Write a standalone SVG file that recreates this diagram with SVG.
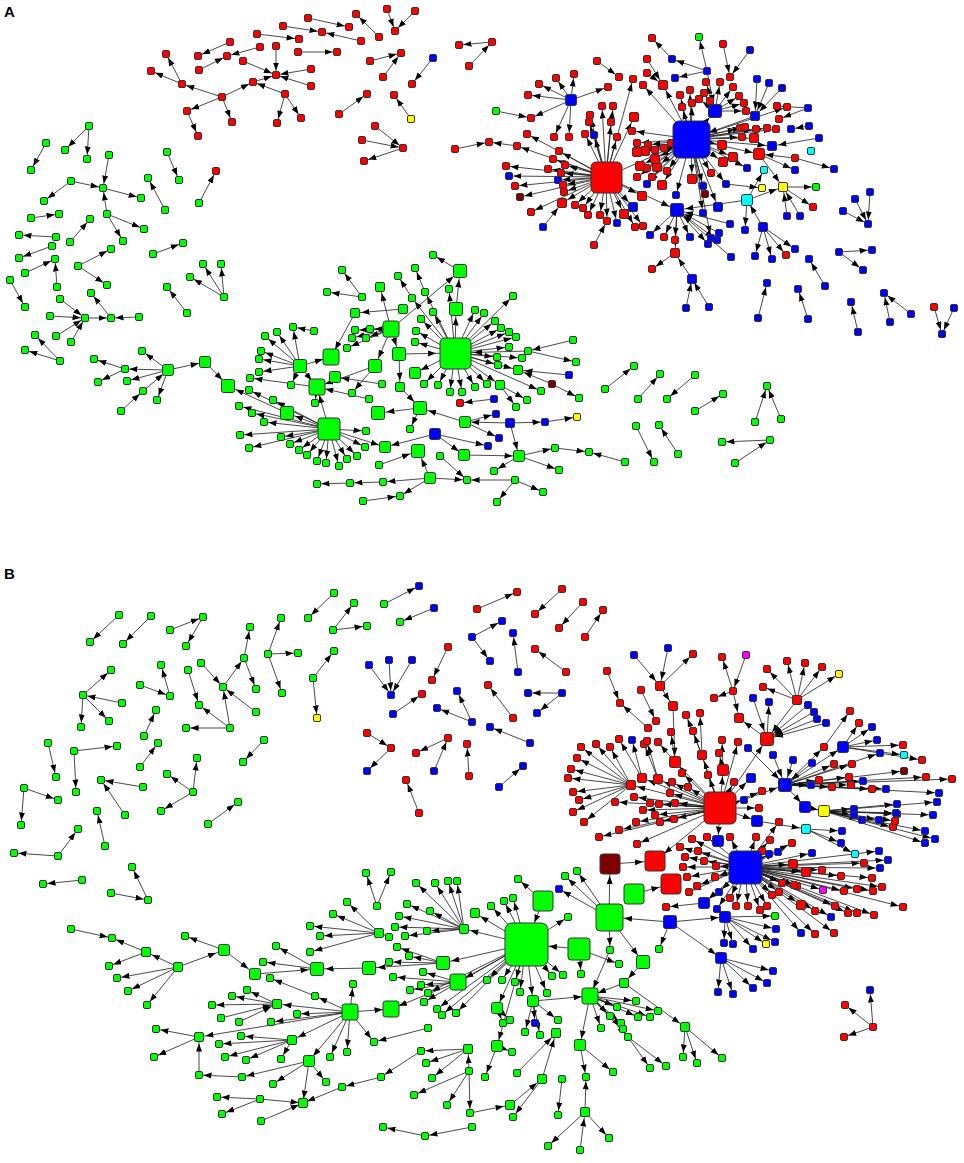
<svg xmlns="http://www.w3.org/2000/svg" width="964" height="1163" viewBox="0 0 964 1163">
<style>
#nodes rect{stroke:#333;stroke-width:1}
.cr{fill:#f00}.cg{fill:#0f0}.cb{fill:#00f}.cc{fill:#0ff}.cy{fill:#ff0}.cd{fill:#800000}.cm{fill:#f0f}
.s{width:7px;height:7px;rx:1.5px;transform:translate(-3.5px,-3.5px)}
.t{width:9px;height:9px;rx:1.5px;transform:translate(-4.5px,-4.5px)}
.u{width:11px;height:11px;rx:2px;transform:translate(-5.5px,-5.5px)}
.v{width:13px;height:13px;rx:2px;transform:translate(-6.5px,-6.5px)}
.w{width:16px;height:16px;rx:2.5px;transform:translate(-8px,-8px)}
.x{width:20px;height:20px;rx:3px;transform:translate(-10px,-10px)}
#connectors path{fill:none;stroke:#1a1a1a;stroke-width:0.8;marker-end:url(#a)}
#connectors .b{marker-end:url(#b)}
#connectors .c{marker-end:url(#c)}
#connectors .e{marker-end:url(#e)}
#connectors .f{marker-end:url(#f)}
#connectors .h{marker-end:url(#h)}
#connectors .k{marker-end:url(#k)}
.lbl{font-family:"Liberation Sans",Arial,sans-serif;font-weight:bold;font-size:15px;fill:#000}
</style>
<defs>
<marker id="a" markerUnits="userSpaceOnUse" markerWidth="9" markerHeight="7" refX="12.5" refY="3" orient="auto"><path d="M0,0L8,3L0,6z" fill="#000"/></marker>
<marker id="b" markerUnits="userSpaceOnUse" markerWidth="9" markerHeight="7" refX="14.5" refY="3" orient="auto"><path d="M0,0L8,3L0,6z" fill="#000"/></marker>
<marker id="c" markerUnits="userSpaceOnUse" markerWidth="9" markerHeight="7" refX="16.5" refY="3" orient="auto"><path d="M0,0L8,3L0,6z" fill="#000"/></marker>
<marker id="e" markerUnits="userSpaceOnUse" markerWidth="9" markerHeight="7" refX="20" refY="3" orient="auto"><path d="M0,0L8,3L0,6z" fill="#000"/></marker>
<marker id="f" markerUnits="userSpaceOnUse" markerWidth="9" markerHeight="7" refX="23" refY="3" orient="auto"><path d="M0,0L8,3L0,6z" fill="#000"/></marker>
<marker id="h" markerUnits="userSpaceOnUse" markerWidth="9" markerHeight="7" refX="27" refY="3" orient="auto"><path d="M0,0L8,3L0,6z" fill="#000"/></marker>
<marker id="k" markerUnits="userSpaceOnUse" markerWidth="9" markerHeight="7" refX="31" refY="3" orient="auto"><path d="M0,0L8,3L0,6z" fill="#000"/></marker>
</defs>
<rect x="0" y="0" width="964" height="1163" fill="#fff"/>
<text class="lbl" x="4" y="17">A</text>
<text class="lbl" x="4" y="579">B</text>
<g id="connectors">
<path d="M308 18L349 27"/><path d="M283 26L322 32"/><path d="M361 41L322 32"/><path d="M257 34L299 39"/><path d="M379 37L356 14"/><path d="M387 9L395 31"/><path d="M415 11L395 31"/><path d="M230 42L198 56"/><path d="M260 47L227 56"/><path d="M199 70L227 56"/><path d="M298 52L337 52"/><path d="M276 46L276 75"/><path d="M243 61L276 75"/><path d="M311 69L276 75"/><path d="M311 86L276 75"/><path d="M253 82L276 75"/><path d="M222 97L253 82"/><path d="M285 94L253 82"/><path d="M285 94L277 123"/><path d="M285 94L301 118"/><path d="M222 97L182 84"/><path d="M182 84L166 54"/><path d="M182 84L151 71"/><path d="M222 97L187 111"/><path d="M187 111L198 136"/><path d="M222 97L232 122"/><path d="M370 61L401 53"/><path d="M383 77L401 53"/><path d="M433 58L412 84"/><path d="M339 114L367 94"/><path d="M411 119L394 95"/><path d="M375 126L403 148"/><path d="M362 140L403 148"/><path d="M403 148L364 161"/><path d="M492 42L459 45"/><path d="M469 66L492 42"/><path d="M455 149L489 142"/><path d="M517 146L489 142"/>
<path d="M89 126L65 150"/><path d="M89 126L87 159"/><path d="M46 143L31 170"/><path d="M109 155L103 188"/><path d="M71 181L103 188"/><path d="M71 181L44 201"/><path d="M103 188L141 198"/><path d="M107 214L103 188"/><path d="M107 214L144 229"/><path d="M107 214L123 241"/><path d="M31 218L59 214"/><path d="M56 237L19 235"/><path d="M70 242L90 219"/><path d="M167 152L179 180"/><path d="M165 210L148 178"/><path d="M199 203L216 171"/><path d="M153 254L183 243"/><path d="M52 246L19 258"/><path d="M25 273L55 259"/><path d="M57 287L55 259"/><path d="M78 266L111 249"/><path d="M78 266L107 285"/><path d="M10 280L25 307"/><path d="M60 299L85 318"/><path d="M50 316L85 318"/><path d="M56 336L85 318"/><path d="M71 342L85 318"/><path d="M85 318L111 318"/><path d="M139 317L111 318"/><path d="M111 318L91 293"/><path d="M60 361L35 335"/><path d="M60 361L25 350"/><path d="M224 297L203 264"/><path d="M224 297L221 264"/><path d="M224 297L190 277"/><path d="M187 313L167 287"/>
<path class="b" d="M168 370L205 362"/><path class="c" d="M205 362L228 386"/><path d="M168 370L125 369"/><path d="M125 369L94 359"/><path d="M125 369L98 382"/><path d="M168 370L142 351"/><path d="M168 370L127 381"/><path d="M168 370L157 400"/><path d="M121 411L143 391"/><path class="b" d="M143 391L168 370"/>
<path d="M455 353L475 310"/><path d="M455 353L484 313"/><path d="M455 353L495 321"/><path d="M455 353L501 328"/><path d="M455 353L509 332"/><path d="M455 353L516 337"/><path d="M455 353L509 347"/><path d="M455 353L497 357"/><path d="M455 353L498 365"/><path d="M455 353L522 358"/><path d="M455 353L487 384"/><path d="M455 353L475 387"/><path d="M455 353L462 392"/><path d="M455 353L450 392"/><path d="M455 353L438 385"/><path d="M455 353L424 384"/><path d="M455 353L513 296"/><path d="M455 353L416 331"/><path d="M455 353L415 342"/><path d="M455 353L421 319"/><path d="M455 353L433 312"/><path d="M455 353L425 292"/><path d="M455 353L412 298"/><path d="M455 353L449 289"/><path d="M455 353L541 391"/>
<path class="c" d="M455 353L456 309"/><path class="b" d="M455 353L518 370"/><path class="b" d="M455 353L500 385"/><path class="b" d="M455 353L415 373"/><path class="c" d="M456 309L460 271"/><path d="M460 271L433 255"/><path class="h" d="M528 351L455 353"/><path class="h" d="M399 354L455 353"/><path class="b" d="M552 384L518 370"/><path d="M552 384L579 398"/><path d="M573 340L528 351"/><path d="M528 351L576 362"/><path class="b" d="M569 375L518 370"/><path d="M500 385L527 400"/><path d="M500 385L516 407"/><path d="M494 399L460 403"/><path d="M465 422L496 414"/><path d="M465 422L499 438"/><path d="M435 434L488 446"/>
<path class="c" d="M391 329L399 354"/><path class="c" d="M391 329L375 366"/><path d="M391 329L355 330"/><path d="M391 329L352 338"/><path d="M391 329L370 329"/><path d="M391 329L366 338"/><path d="M391 329L347 348"/><path class="b" d="M391 329L380 287"/><path class="c" d="M391 329L460 271"/><path class="b" d="M403 309L355 313"/><path d="M362 297L342 270"/><path d="M362 297L327 292"/><path d="M412 298L398 276"/><path d="M425 292L415 268"/><path class="c" d="M355 313L331 357"/>
<path d="M300 366L265 336"/><path d="M300 366L277 332"/><path d="M300 366L293 327"/><path d="M300 366L261 351"/><path d="M300 366L259 359"/><path d="M300 366L259 372"/><path d="M300 366L291 385"/><path class="c" d="M300 366L331 357"/><path class="c" d="M300 366L317 387"/><path d="M314 331L293 327"/><path class="b" d="M382 384L335 377"/><path class="c" d="M375 366L317 387"/><path d="M375 366L352 393"/>
<path d="M329 429L240 435"/><path d="M329 429L249 448"/><path d="M329 429L264 422"/><path d="M329 429L252 413"/><path d="M329 429L239 406"/><path d="M329 429L281 437"/><path d="M329 429L290 444"/><path d="M329 429L299 450"/><path d="M329 429L307 455"/><path d="M329 429L317 461"/><path d="M329 429L326 463"/><path d="M329 429L339 466"/><path d="M329 429L347 459"/><path d="M329 429L357 456"/><path d="M329 429L365 447"/><path d="M329 429L366 431"/><path d="M329 429L249 390"/><path d="M329 429L273 400"/><path class="c" d="M329 429L287 413"/><path class="c" d="M329 429L317 387"/><path class="b" d="M329 429L385 447"/><path d="M317 387L250 378"/><path d="M317 387L315 403"/><path class="c" d="M287 413L228 386"/><path class="c" d="M369 399L317 387"/>
<path class="c" d="M420 408L378 413"/><path class="c" d="M465 422L420 408"/><path class="b" d="M510 423L465 422"/><path class="b" d="M510 423L519 456"/><path class="b" d="M435 434L464 455"/><path class="b" d="M435 434L385 447"/><path class="b" d="M464 455L519 456"/><path class="c" d="M400 387L420 408"/><path class="b" d="M399 354L400 387"/><path class="c" d="M430 478L418 451"/><path class="c" d="M379 465L418 451"/><path d="M420 408L410 429"/><path d="M430 478L383 482"/><path d="M383 482L350 483"/><path d="M350 483L317 484"/><path d="M430 478L400 496"/><path d="M363 501L400 496"/><path d="M430 478L467 480"/><path d="M440 456L467 480"/><path d="M515 480L467 480"/><path d="M515 480L543 492"/><path d="M515 480L497 502"/><path d="M519 456L555 448"/><path d="M519 456L559 470"/><path d="M519 456L494 471"/><path d="M555 448L589 452"/><path d="M625 462L589 452"/><path d="M510 423L545 422"/><path d="M545 422L577 417"/>
<path d="M605 389L634 366"/><path d="M638 399L660 374"/><path d="M695 375L667 399"/><path d="M695 411L723 394"/><path d="M755 422L767 386"/><path d="M781 419L767 386"/><path d="M770 440L722 442"/><path d="M735 463L770 440"/><path d="M636 426L654 462"/><path d="M678 454L659 425"/>
<path d="M855 199L868 224"/><path d="M870 192L868 224"/><path d="M843 211L868 224"/><path d="M839 252L872 250"/><path d="M839 252L863 270"/><path d="M825 286L809 259"/><path d="M758 318L767 283"/><path d="M808 319L798 289"/><path d="M858 332L851 302"/><path d="M890 322L884 293"/><path d="M911 314L884 293"/><path d="M934 307L942 334"/><path d="M954 308L942 334"/>
<path d="M606 177L506 166"/><path d="M606 177L515 186"/><path d="M606 177L509 176"/><path d="M606 177L520 197"/><path d="M606 177L531 212"/><path d="M606 177L553 159"/><path d="M606 177L559 151"/><path d="M606 177L548 169"/><path d="M606 177L565 165"/><path d="M606 177L561 173"/><path d="M606 177L558 180"/><path d="M606 177L563 185"/><path d="M606 177L564 192"/><path d="M606 177L575 205"/><path d="M606 177L583 208"/><path d="M606 177L588 215"/><path d="M606 177L600 215"/><path d="M606 177L607 221"/><path d="M606 177L617 223"/><path d="M606 177L635 227"/><path d="M606 177L585 134"/><path d="M606 177L594 135"/><path d="M606 177L589 122"/><path d="M606 177L590 115"/><path d="M606 177L602 106"/><path d="M606 177L613 106"/><path d="M606 177L611 122"/><path d="M606 177L617 137"/><path d="M606 177L527 134"/><path d="M606 177L643 226"/><path d="M606 177L517 146"/><path d="M606 177L633 79"/>
<path class="b" d="M606 177L562 203"/><path class="b" d="M606 177L624 214"/><path class="b" d="M606 177L633 207"/><path class="b" d="M606 177L642 196"/><path class="b" d="M606 177L634 117"/><path class="c" d="M606 177L677 210"/><path class="h" d="M606 177L691 139"/>
<path d="M571 100L554 137"/><path d="M571 100L569 137"/><path d="M571 100L574 74"/><path d="M571 100L556 78"/><path d="M571 100L539 84"/><path d="M571 100L528 95"/><path d="M571 100L531 118"/><path d="M571 100L608 87"/><path d="M496 111L531 118"/><path class="b" d="M543 227L562 203"/><path d="M594 245L607 221"/>
<path d="M691 139L680 95"/><path d="M691 139L682 107"/><path d="M691 139L692 103"/><path d="M691 139L690 90"/><path d="M691 139L648 145"/><path d="M691 139L637 143"/><path d="M691 139L655 150"/><path d="M691 139L647 168"/><path d="M691 139L652 177"/><path d="M691 139L637 177"/><path d="M691 139L667 171"/><path d="M691 139L671 143"/><path d="M691 139L664 148"/><path d="M691 139L742 137"/><path d="M691 139L740 128"/><path d="M691 139L745 127"/><path d="M691 139L756 129"/><path d="M691 139L767 128"/><path d="M691 139L776 129"/><path d="M691 139L711 173"/><path d="M691 139L747 168"/><path d="M691 139L703 186"/><path d="M691 139L705 194"/><path d="M691 139L726 184"/><path d="M691 139L703 213"/><path d="M691 139L711 238"/><path d="M691 139L787 107"/><path d="M691 139L647 184"/><path d="M691 139L676 195"/><path d="M691 139L632 131"/><path d="M691 139L643 85"/>
<path class="b" d="M691 139L645 151"/><path class="b" d="M691 139L637 152"/><path class="b" d="M691 139L655 159"/><path class="b" d="M691 139L640 166"/><path class="b" d="M691 139L657 167"/><path class="b" d="M691 139L662 185"/><path class="b" d="M691 139L722 145"/><path class="b" d="M691 139L733 157"/><path class="b" d="M691 139L754 138"/><path class="b" d="M691 139L772 146"/><path class="b" d="M691 139L723 162"/><path class="b" d="M691 139L692 179"/><path class="b" d="M691 139L718 207"/><path class="b" d="M691 139L663 85"/><path class="b" d="M691 139L759 154"/><path class="c" d="M691 139L715 111"/><path class="h" d="M755 116L691 139"/>
<path d="M715 111L704 93"/><path d="M715 111L699 99"/><path d="M715 111L710 101"/><path d="M715 111L706 82"/><path d="M715 111L720 82"/><path d="M715 111L733 87"/><path d="M715 111L739 96"/><path d="M715 111L744 103"/><path d="M715 111L746 111"/><path class="c" d="M707 71L715 111"/>
<path d="M677 210L650 235"/><path d="M677 210L664 237"/><path d="M677 210L675 240"/><path d="M677 210L690 237"/><path d="M677 210L708 244"/><path d="M677 210L717 240"/><path class="c" d="M731 257L677 210"/><path class="c" d="M730 224L677 210"/><path class="c" d="M719 233L677 210"/><path class="c" d="M747 200L677 210"/><path class="b" d="M677 210L675 253"/><path d="M675 253L652 269"/><path class="b" d="M692 279L675 253"/><path d="M686 308L692 279"/><path d="M709 307L692 279"/>
<path class="b" d="M763 227L747 200"/><path class="b" d="M747 200L783 187"/><path d="M747 200L745 230"/><path d="M747 200L764 170"/><path class="b" d="M787 216L783 187"/><path class="b" d="M800 216L783 187"/><path class="b" d="M759 154L783 187"/><path d="M783 187L816 187"/><path d="M783 187L813 207"/><path d="M763 227L755 256"/><path d="M763 227L772 259"/><path d="M763 227L786 255"/><path d="M763 227L795 249"/><path class="b" d="M795 158L759 154"/><path d="M795 158L834 169"/><path d="M759 154L795 170"/><path class="b" d="M819 138L772 146"/><path class="b" d="M782 88L755 116"/><path class="b" d="M769 83L755 116"/><path class="b" d="M757 79L755 116"/><path d="M808 108L777 106"/><path d="M808 108L779 119"/><path d="M809 126L791 129"/><path d="M726 184L762 188"/>
<path d="M707 71L672 59"/><path d="M672 59L652 38"/><path d="M707 71L699 37"/><path d="M723 44L730 77"/><path d="M750 50L730 77"/><path d="M597 61L619 77"/><path d="M707 71L675 78"/><path class="b" d="M647 59L663 85"/><path class="b" d="M647 73L663 85"/>
<path d="M119 615L90 642"/><path d="M151 616L123 644"/><path d="M170 630L203 617"/><path d="M203 617L186 646"/><path d="M334 593L308 618"/><path d="M333 630L354 603"/><path d="M333 630L367 626"/><path d="M268 654L281 618"/><path d="M268 654L298 653"/><path d="M268 654L282 693"/><path d="M244 658L250 627"/><path d="M244 658L256 689"/><path d="M223 687L244 658"/><path d="M201 663L223 687"/><path d="M256 712L223 687"/><path d="M230 728L223 687"/><path d="M230 728L199 705"/><path d="M230 728L186 728"/><path d="M188 670L199 705"/><path d="M313 678L334 651"/><path d="M313 678L317 718"/><path d="M83 695L111 670"/><path d="M122 703L83 695"/><path d="M83 695L81 727"/><path d="M83 695L109 721"/><path d="M170 696L161 665"/><path d="M140 685L170 696"/><path d="M144 736L156 710"/><path d="M48 743L56 777"/><path d="M74 751L117 746"/><path d="M74 751L76 792"/><path d="M140 767L158 743"/><path d="M143 787L101 780"/><path d="M125 815L101 780"/><path d="M193 792L197 758"/><path d="M193 792L167 774"/><path d="M193 792L161 811"/><path d="M264 740L243 762"/><path d="M208 824L238 802"/><path d="M24 788L58 800"/><path d="M24 788L21 825"/><path d="M105 846L97 811"/><path d="M58 856L78 829"/><path d="M58 856L14 853"/><path d="M148 900L132 867"/><path d="M111 893L148 900"/><path d="M82 880L43 884"/>
<path d="M369 665L391 695"/><path d="M389 660L391 695"/><path d="M412 660L391 695"/><path d="M448 647L432 680"/><path d="M393 714L422 694"/><path d="M472 722L457 691"/><path d="M472 722L437 708"/><path d="M367 733L391 748"/><path d="M391 748L367 771"/><path d="M448 738L416 753"/><path d="M434 771L448 738"/><path d="M469 776L467 744"/><path d="M419 813L406 780"/><path d="M384 604L419 586"/><path d="M434 608L400 622"/><path d="M477 609L517 592"/><path d="M562 589L535 614"/><path d="M583 602L559 628"/><path d="M585 637L603 610"/><path d="M472 637L502 621"/><path d="M472 637L490 661"/><path d="M518 672L513 633"/><path d="M566 672L535 649"/><path d="M513 718L488 685"/><path d="M562 693L528 693"/><path d="M562 693L537 713"/><path d="M530 743L490 727"/><path d="M499 787L523 766"/>
<path d="M873 1027L870 990"/><path d="M873 1027L845 1005"/><path d="M873 1027L844 1037"/>
<path class="b" d="M634 655L660 686"/><path class="b" d="M668 648L660 686"/><path d="M660 686L693 654"/><path class="b" d="M660 686L673 706"/><path d="M607 671L620 703"/><path d="M648 728L620 703"/><path d="M641 690L656 721"/><path d="M733 691L722 657"/><path d="M746 655L733 691"/><path class="b" d="M733 691L739 718"/><path d="M733 691L714 698"/><path d="M797 700L767 669"/><path d="M797 700L787 661"/><path d="M797 700L805 663"/><path d="M797 700L822 667"/><path d="M797 700L839 674"/><path d="M797 700L763 687"/><path class="c" d="M797 700L767 739"/><path class="c" d="M753 698L767 739"/><path d="M767 739L769 702"/><path class="c" d="M808 705L767 739"/><path class="c" d="M814 712L767 739"/><path class="c" d="M817 719L767 739"/><path class="c" d="M826 723L767 739"/><path class="b" d="M767 739L739 718"/><path class="b" d="M673 706L675 762"/><path d="M702 755L686 715"/><path d="M702 755L700 713"/><path d="M723 770L722 740"/><path d="M723 770L719 753"/><path class="c" d="M748 748L785 785"/><path class="c" d="M773 755L785 785"/><path class="c" d="M793 760L785 785"/><path class="c" d="M812 763L785 785"/>
<path class="b" d="M720 808L631 785"/><path class="b" d="M720 808L642 778"/><path class="b" d="M720 808L658 779"/><path class="b" d="M720 808L675 762"/><path class="b" d="M720 808L702 755"/><path class="b" d="M720 808L723 770"/><path d="M720 808L615 802"/><path d="M720 808L634 797"/><path d="M720 808L650 803"/><path d="M720 808L659 804"/><path d="M720 808L643 810"/><path d="M720 808L670 793"/><path d="M720 808L675 803"/><path d="M720 808L688 787"/><path d="M720 808L682 773"/><path d="M720 808L672 782"/><path d="M720 808L599 837"/><path d="M720 808L619 830"/><path d="M720 808L637 844"/><path d="M720 808L636 822"/><path d="M720 808L655 815"/><path d="M720 808L660 822"/><path d="M720 808L674 819"/><path d="M720 808L708 775"/><path d="M720 808L734 782"/><path d="M720 808L762 791"/><path d="M720 808L759 808"/><path d="M720 808L744 800"/><path d="M720 808L693 731"/><path d="M720 808L738 742"/><path class="b" d="M720 808L757 821"/><path class="b" d="M720 808L718 841"/><path class="b" d="M720 808L751 778"/><path class="c" d="M720 808L785 785"/><path class="c" d="M720 808L767 739"/><path class="e" d="M720 808L655 861"/>
<path d="M631 785L573 812"/><path d="M631 785L579 800"/><path d="M631 785L573 792"/><path d="M631 785L568 778"/><path d="M631 785L571 769"/><path d="M631 785L577 758"/><path d="M631 785L581 747"/><path d="M631 785L596 744"/><path d="M631 785L610 747"/><path d="M631 785L584 822"/><path d="M642 778L619 739"/><path d="M642 778L632 740"/><path d="M658 779L644 744"/><path d="M658 779L647 741"/><path d="M675 762L658 742"/><path d="M675 762L671 732"/>
<path d="M824 747L850 711"/><path d="M843 747L859 723"/><path d="M843 747L872 727"/><path d="M843 747L877 740"/><path d="M843 747L903 745"/><path d="M843 747L904 755"/><path d="M843 747L922 760"/><path class="b" d="M785 785L843 747"/><path d="M785 785L824 747"/><path d="M785 785L904 771"/><path d="M785 785L926 777"/><path d="M785 785L952 779"/><path d="M785 785L939 793"/><path d="M785 785L880 753"/><path d="M785 785L834 764"/><path d="M785 785L852 764"/><path d="M785 785L849 777"/><path d="M785 785L863 781"/><path d="M785 785L872 789"/><path d="M785 785L886 789"/><path d="M785 785L851 785"/><path d="M785 785L832 787"/><path d="M785 785L819 780"/><path d="M785 785L811 785"/><path class="b" d="M785 785L805 807"/><path class="b" d="M805 807L824 811"/>
<path d="M824 811L897 804"/><path d="M824 811L897 814"/><path d="M824 811L879 820"/><path d="M824 811L854 809"/><path d="M824 811L854 815"/><path d="M824 811L862 820"/><path d="M824 811L925 831"/><path d="M824 811L935 839"/><path d="M824 811L925 843"/><path d="M824 811L896 813"/><path d="M824 811L937 802"/><path d="M824 811L933 815"/><path d="M824 811L893 827"/><path d="M824 811L895 821"/><path class="b" d="M757 821L806 829"/><path d="M806 829L842 831"/><path d="M806 829L841 843"/><path d="M806 829L855 854"/>
<path d="M745 867L687 877"/><path d="M745 867L697 886"/><path d="M745 867L689 892"/><path d="M745 867L683 867"/><path d="M745 867L685 857"/><path d="M745 867L704 861"/><path d="M745 867L715 877"/><path d="M745 867L716 866"/><path d="M745 867L698 851"/><path d="M745 867L680 847"/><path d="M745 867L692 839"/><path d="M745 867L707 837"/><path d="M745 867L730 837"/><path d="M745 867L756 837"/><path d="M745 867L770 840"/><path d="M745 867L762 851"/><path d="M745 867L779 822"/><path d="M745 867L792 843"/><path d="M745 867L805 871"/><path d="M745 867L822 870"/><path d="M745 867L841 876"/><path d="M745 867L736 906"/><path d="M745 867L748 906"/><path d="M745 867L760 910"/><path d="M745 867L767 906"/><path d="M745 867L730 898"/><path d="M745 867L779 892"/><path d="M745 867L797 886"/><path d="M745 867L815 911"/><path d="M745 867L835 906"/><path d="M745 867L848 913"/><path d="M745 867L857 913"/><path d="M745 867L874 915"/><path d="M745 867L903 907"/><path d="M745 867L815 934"/><path d="M745 867L834 933"/><path d="M745 867L801 933"/><path d="M745 867L831 917"/><path d="M745 867L844 891"/><path d="M745 867L857 889"/><path d="M745 867L873 891"/><path d="M745 867L882 887"/><path d="M745 867L872 878"/><path d="M745 867L880 868"/><path d="M745 867L864 863"/><path d="M745 867L888 860"/><path d="M745 867L879 851"/><path d="M745 867L823 890"/><path d="M745 867L782 883"/><path d="M745 867L772 895"/><path d="M745 867L794 885"/><path d="M745 867L719 892"/><path d="M745 867L717 909"/><path d="M745 867L812 853"/><path d="M745 867L778 852"/><path d="M745 867L769 854"/><path class="b" d="M745 867L801 905"/><path class="b" d="M745 867L806 872"/><path class="b" d="M745 867L793 864"/><path class="b" d="M745 867L704 903"/><path d="M704 903L666 907"/>
<path class="f" d="M670 922L609 917"/><path class="b" d="M670 922L721 958"/><path class="b" d="M670 922L725 917"/><path d="M670 922L659 949"/><path d="M725 917L775 916"/><path d="M725 917L776 929"/><path d="M725 917L775 942"/><path d="M725 917L766 944"/><path d="M725 917L753 949"/><path d="M725 917L733 944"/><path d="M725 917L724 943"/><path d="M721 958L773 971"/><path d="M721 958L767 983"/><path d="M721 958L753 988"/><path d="M721 958L733 994"/><path d="M721 958L718 992"/>
<path class="e" d="M609 917L610 864"/><path class="e" d="M610 864L655 861"/><path class="e" d="M634 894L671 884"/><path d="M609 917L559 889"/><path d="M609 917L565 876"/><path d="M609 917L577 871"/><path d="M609 917L610 950"/><path class="c" d="M609 917L643 962"/><path class="k" d="M543 901L526 944"/><path d="M543 901L518 879"/><path class="k" d="M579 949L526 944"/><path d="M579 949L619 964"/><path d="M579 949L581 974"/><path class="b" d="M643 962L624 983"/><path class="c" d="M624 983L590 996"/><path class="b" d="M624 983L685 1027"/>
<path d="M590 996L636 1001"/><path d="M590 996L650 1017"/><path d="M590 996L638 1017"/><path d="M590 996L617 1007"/><path d="M590 996L610 1016"/><path d="M590 996L621 1023"/><path d="M590 996L623 1029"/><path d="M590 996L628 1037"/><path d="M590 996L658 1011"/><path d="M590 996L601 1028"/><path class="b" d="M590 996L580 1045"/><path class="c" d="M533 1001L590 996"/><path class="c" d="M610 950L590 996"/><path d="M628 1037L650 1068"/><path d="M628 1037L666 1066"/><path d="M580 1045L586 1077"/><path d="M580 1045L613 1072"/><path d="M585 1112L586 1077"/><path class="b" d="M580 1150L585 1112"/><path d="M585 1112L548 1146"/><path d="M585 1112L609 1138"/><path d="M685 1027L683 1057"/><path d="M685 1027L697 1063"/><path d="M685 1027L722 1058"/><path d="M562 1079L558 1115"/><path class="b" d="M517 1073L556 1033"/><path class="b" d="M542 1079L556 1033"/><path class="b" d="M510 1105L542 1079"/><path d="M542 1079L513 1117"/><path d="M497 1046L485 1077"/><path class="b" d="M470 1113L510 1105"/>
<path class="b" d="M526 944L533 1001"/><path class="b" d="M526 944L497 1008"/><path class="b" d="M526 944L497 1046"/><path d="M526 944L520 992"/><path d="M526 944L515 982"/><path d="M526 944L552 976"/><path d="M526 944L547 993"/><path d="M526 944L563 975"/><path d="M526 944L568 917"/><path d="M526 944L504 901"/><path d="M526 944L513 898"/><path d="M526 944L491 906"/><path class="b" d="M526 944L464 929"/><path class="b" d="M526 944L475 913"/><path class="c" d="M526 944L443 963"/><path class="c" d="M526 944L458 982"/><path d="M526 944L428 993"/><path d="M526 944L424 1002"/><path d="M526 944L437 1009"/><path d="M526 944L442 1015"/><path d="M526 944L456 1013"/><path d="M526 944L487 980"/><path d="M526 944L502 980"/><path d="M533 1001L535 1023"/><path d="M533 1001L525 1032"/><path d="M533 1001L540 1035"/><path d="M533 1001L558 1020"/><path d="M497 1008L510 1020"/><path d="M497 1008L503 1023"/><path d="M497 1046L512 1052"/>
<path d="M464 929L416 883"/><path d="M464 929L435 883"/><path d="M464 929L448 881"/><path d="M464 929L457 881"/><path d="M464 929L407 904"/><path d="M464 929L430 911"/><path d="M464 929L399 916"/><path d="M464 929L395 927"/><path d="M464 929L427 931"/><path d="M464 929L405 936"/><path d="M377 906L366 873"/><path d="M377 906L391 872"/><path class="c" d="M443 963L369 968"/><path d="M443 963L409 956"/><path d="M443 963L389 962"/><path d="M443 963L397 947"/><path class="c" d="M458 982L391 1009"/><path d="M458 982L410 990"/><path d="M458 982L393 977"/><path d="M458 982L423 972"/><path d="M458 982L421 985"/><path class="c" d="M350 1012L391 1009"/><path class="c" d="M369 968L317 969"/><path class="c" d="M255 974L317 969"/><path class="b" d="M389 937L379 933"/><path d="M379 933L333 914"/><path d="M379 933L347 902"/><path d="M379 933L310 926"/><path d="M379 933L320 936"/><path d="M379 933L310 952"/><path d="M317 969L263 962"/><path d="M317 969L276 946"/>
<path class="c" d="M224 950L255 974"/><path class="c" d="M178 967L224 950"/><path d="M224 950L185 936"/><path class="b" d="M178 967L146 952"/><path d="M146 952L112 938"/><path d="M71 929L112 938"/><path d="M146 952L109 966"/><path d="M178 967L117 978"/><path d="M178 967L128 991"/><path d="M178 967L147 1005"/><path d="M315 996L270 978"/>
<path d="M350 1012L315 996"/><path class="b" d="M350 1012L277 1004"/><path d="M350 1012L297 1014"/><path d="M350 1012L271 1022"/><path class="b" d="M350 1012L292 1040"/><path d="M350 1012L330 1057"/><path d="M350 1012L347 1052"/><path d="M350 1012L374 1042"/><path d="M350 1012L353 984"/><path class="b" d="M350 1012L309 1061"/><path class="b" d="M350 1012L199 1037"/><path d="M277 1004L212 1005"/><path d="M277 1004L232 996"/><path d="M277 1004L247 990"/><path class="b" d="M221 1018L277 1004"/><path class="b" d="M239 1022L277 1004"/><path d="M199 1037L156 1029"/><path d="M199 1037L154 1057"/><path class="b" d="M199 1075L199 1037"/><path d="M242 1077L199 1075"/><path d="M292 1040L241 1036"/><path d="M292 1040L219 1044"/><path d="M292 1040L225 1057"/><path d="M292 1040L246 1060"/><path d="M292 1040L281 1059"/><path d="M309 1061L242 1077"/><path d="M309 1061L273 1084"/><path d="M309 1061L326 1082"/><path d="M309 1061L303 1103"/><path d="M260 1099L303 1103"/><path d="M260 1099L217 1097"/><path d="M260 1099L222 1114"/><path d="M261 1121L303 1103"/><path d="M342 1087L303 1103"/><path d="M381 1077L342 1087"/><path d="M421 1051L381 1077"/><path d="M468 1049L421 1051"/><path d="M468 1049L426 1063"/><path d="M468 1049L432 1078"/><path class="b" d="M469 1071L468 1049"/><path d="M469 1071L414 1095"/><path d="M469 1071L447 1105"/><path d="M469 1071L470 1113"/><path d="M472 1127L425 1136"/><path d="M425 1136L383 1127"/><path d="M428 1028L374 1042"/>
</g>
<g id="nodes">
<g id="n308_18"><rect class="s cr" x="308" y="18"/></g><g id="n349_27"><rect class="s cr" x="349" y="27"/></g><g id="n283_26"><rect class="s cr" x="283" y="26"/></g><g id="n322_32"><rect class="s cr" x="322" y="32"/></g><g id="n361_41"><rect class="s cr" x="361" y="41"/></g><g id="n257_34"><rect class="s cr" x="257" y="34"/></g><g id="n299_39"><rect class="s cr" x="299" y="39"/></g><g id="n356_14"><rect class="s cr" x="356" y="14"/></g><g id="n379_37"><rect class="s cr" x="379" y="37"/></g><g id="n387_9"><rect class="s cr" x="387" y="9"/></g><g id="n415_11"><rect class="s cr" x="415" y="11"/></g><g id="n395_31"><rect class="s cr" x="395" y="31"/></g><g id="n230_42"><rect class="s cr" x="230" y="42"/></g><g id="n198_56"><rect class="s cr" x="198" y="56"/></g><g id="n260_47"><rect class="s cr" x="260" y="47"/></g><g id="n227_56"><rect class="s cr" x="227" y="56"/></g><g id="n199_70"><rect class="s cr" x="199" y="70"/></g><g id="n298_52"><rect class="s cr" x="298" y="52"/></g><g id="n337_52"><rect class="s cr" x="337" y="52"/></g><g id="n276_46"><rect class="s cr" x="276" y="46"/></g><g id="n276_75"><rect class="s cr" x="276" y="75"/></g><g id="n243_61"><rect class="s cr" x="243" y="61"/></g><g id="n311_69"><rect class="s cr" x="311" y="69"/></g><g id="n311_86"><rect class="s cr" x="311" y="86"/></g><g id="n253_82"><rect class="s cr" x="253" y="82"/></g><g id="n222_97"><rect class="s cr" x="222" y="97"/></g><g id="n285_94"><rect class="s cr" x="285" y="94"/></g><g id="n277_123"><rect class="s cr" x="277" y="123"/></g><g id="n301_118"><rect class="s cr" x="301" y="118"/></g><g id="n182_84"><rect class="s cr" x="182" y="84"/></g><g id="n166_54"><rect class="s cr" x="166" y="54"/></g><g id="n151_71"><rect class="s cr" x="151" y="71"/></g><g id="n187_111"><rect class="s cr" x="187" y="111"/></g><g id="n198_136"><rect class="s cr" x="198" y="136"/></g><g id="n232_122"><rect class="s cr" x="232" y="122"/></g><g id="n401_53"><rect class="s cr" x="401" y="53"/></g><g id="n370_61"><rect class="s cr" x="370" y="61"/></g><g id="n383_77"><rect class="s cr" x="383" y="77"/></g><g id="n412_84"><rect class="s cr" x="412" y="84"/></g><g id="n339_114"><rect class="s cr" x="339" y="114"/></g><g id="n367_94"><rect class="s cr" x="367" y="94"/></g><g id="n394_95"><rect class="s cr" x="394" y="95"/></g><g id="n375_126"><rect class="s cr" x="375" y="126"/></g><g id="n362_140"><rect class="s cr" x="362" y="140"/></g><g id="n403_148"><rect class="s cr" x="403" y="148"/></g><g id="n364_161"><rect class="s cr" x="364" y="161"/></g><g id="n459_45"><rect class="s cr" x="459" y="45"/></g><g id="n492_42"><rect class="s cr" x="492" y="42"/></g><g id="n469_66"><rect class="s cr" x="469" y="66"/></g><g id="n455_149"><rect class="s cr" x="455" y="149"/></g><g id="n489_142"><rect class="s cr" x="489" y="142"/></g><g id="n517_146"><rect class="s cr" x="517" y="146"/></g><g id="n216_171"><rect class="s cr" x="216" y="171"/></g><g id="n433_58"><rect class="s cb" x="433" y="58"/></g><g id="n411_119"><rect class="s cy" x="411" y="119"/></g>
<g id="n89_126"><rect class="s cg" x="89" y="126"/></g><g id="n65_150"><rect class="s cg" x="65" y="150"/></g><g id="n87_159"><rect class="s cg" x="87" y="159"/></g><g id="n46_143"><rect class="s cg" x="46" y="143"/></g><g id="n31_170"><rect class="s cg" x="31" y="170"/></g><g id="n109_155"><rect class="s cg" x="109" y="155"/></g><g id="n103_188"><rect class="s cg" x="103" y="188"/></g><g id="n71_181"><rect class="s cg" x="71" y="181"/></g><g id="n44_201"><rect class="s cg" x="44" y="201"/></g><g id="n141_198"><rect class="s cg" x="141" y="198"/></g><g id="n107_214"><rect class="s cg" x="107" y="214"/></g><g id="n144_229"><rect class="s cg" x="144" y="229"/></g><g id="n123_241"><rect class="s cg" x="123" y="241"/></g><g id="n31_218"><rect class="s cg" x="31" y="218"/></g><g id="n59_214"><rect class="s cg" x="59" y="214"/></g><g id="n56_237"><rect class="s cg" x="56" y="237"/></g><g id="n19_235"><rect class="s cg" x="19" y="235"/></g><g id="n90_219"><rect class="s cg" x="90" y="219"/></g><g id="n70_242"><rect class="s cg" x="70" y="242"/></g><g id="n167_152"><rect class="s cg" x="167" y="152"/></g><g id="n179_180"><rect class="s cg" x="179" y="180"/></g><g id="n148_178"><rect class="s cg" x="148" y="178"/></g><g id="n165_210"><rect class="s cg" x="165" y="210"/></g><g id="n199_203"><rect class="s cg" x="199" y="203"/></g><g id="n183_243"><rect class="s cg" x="183" y="243"/></g><g id="n153_254"><rect class="s cg" x="153" y="254"/></g><g id="n52_246"><rect class="s cg" x="52" y="246"/></g><g id="n19_258"><rect class="s cg" x="19" y="258"/></g><g id="n111_249"><rect class="s cg" x="111" y="249"/></g><g id="n55_259"><rect class="s cg" x="55" y="259"/></g><g id="n25_273"><rect class="s cg" x="25" y="273"/></g><g id="n57_287"><rect class="s cg" x="57" y="287"/></g><g id="n78_266"><rect class="s cg" x="78" y="266"/></g><g id="n107_285"><rect class="s cg" x="107" y="285"/></g><g id="n10_280"><rect class="s cg" x="10" y="280"/></g><g id="n25_307"><rect class="s cg" x="25" y="307"/></g><g id="n60_299"><rect class="s cg" x="60" y="299"/></g><g id="n85_318"><rect class="s cg" x="85" y="318"/></g><g id="n50_316"><rect class="s cg" x="50" y="316"/></g><g id="n56_336"><rect class="s cg" x="56" y="336"/></g><g id="n71_342"><rect class="s cg" x="71" y="342"/></g><g id="n91_293"><rect class="s cg" x="91" y="293"/></g><g id="n111_318"><rect class="s cg" x="111" y="318"/></g><g id="n139_317"><rect class="s cg" x="139" y="317"/></g><g id="n35_335"><rect class="s cg" x="35" y="335"/></g><g id="n60_361"><rect class="s cg" x="60" y="361"/></g><g id="n25_350"><rect class="s cg" x="25" y="350"/></g><g id="n224_297"><rect class="s cg" x="224" y="297"/></g><g id="n203_264"><rect class="s cg" x="203" y="264"/></g><g id="n221_264"><rect class="s cg" x="221" y="264"/></g><g id="n190_277"><rect class="s cg" x="190" y="277"/></g><g id="n167_287"><rect class="s cg" x="167" y="287"/></g><g id="n187_313"><rect class="s cg" x="187" y="313"/></g>
<g id="n168_370"><rect class="u cg" x="168" y="370"/></g><g id="n205_362"><rect class="u cg" x="205" y="362"/></g><g id="n228_386"><rect class="v cg" x="228" y="386"/></g><g id="n125_369"><rect class="s cg" x="125" y="369"/></g><g id="n142_351"><rect class="s cg" x="142" y="351"/></g><g id="n98_382"><rect class="s cg" x="98" y="382"/></g><g id="n127_381"><rect class="s cg" x="127" y="381"/></g><g id="n143_391"><rect class="s cg" x="143" y="391"/></g><g id="n157_400"><rect class="s cg" x="157" y="400"/></g><g id="n94_359"><rect class="s cg" x="94" y="359"/></g><g id="n121_411"><rect class="s cg" x="121" y="411"/></g>
<g id="hubG1"><rect class="cg" x="440" y="338" width="31" height="31" rx="5"/></g><g id="hubG2"><rect class="cg" x="318" y="418" width="22" height="22" rx="3"/></g>
<g id="n460_271"><rect class="v cg" x="460" y="271"/></g><g id="n456_309"><rect class="v cg" x="456" y="309"/></g><g id="n300_366"><rect class="v cg" x="300" y="366"/></g><g id="n331_357"><rect class="w cg" x="331" y="357"/></g><g id="n317_387"><rect class="w cg" x="317" y="387"/></g><g id="n335_377"><rect class="u cg" x="335" y="377"/></g><g id="n391_329"><rect class="w cg" x="391" y="329"/></g><g id="n399_354"><rect class="v cg" x="399" y="354"/></g><g id="n375_366"><rect class="v cg" x="375" y="366"/></g><g id="n415_373"><rect class="u cg" x="415" y="373"/></g><g id="n400_387"><rect class="t cg" x="400" y="387"/></g><g id="n403_309"><rect class="t cg" x="403" y="309"/></g><g id="n380_287"><rect class="t cg" x="380" y="287"/></g><g id="n355_313"><rect class="t cg" x="355" y="313"/></g><g id="n420_408"><rect class="v cg" x="420" y="408"/></g><g id="n378_413"><rect class="v cg" x="378" y="413"/></g><g id="n287_413"><rect class="v cg" x="287" y="413"/></g><g id="n385_447"><rect class="u cg" x="385" y="447"/></g><g id="n418_451"><rect class="v cg" x="418" y="451"/></g><g id="n430_478"><rect class="u cg" x="430" y="478"/></g><g id="n464_455"><rect class="u cg" x="464" y="455"/></g><g id="n465_422"><rect class="u cg" x="465" y="422"/></g><g id="n519_456"><rect class="u cg" x="519" y="456"/></g><g id="n435_434"><rect class="u cb" x="435" y="434"/></g><g id="n510_423"><rect class="t cb" x="510" y="423"/></g><g id="n518_370"><rect class="t cg" x="518" y="370"/></g><g id="n500_385"><rect class="t cg" x="500" y="385"/></g>
<g id="n433_255"><rect class="s cg" x="433" y="255"/></g><g id="n475_310"><rect class="s cg" x="475" y="310"/></g><g id="n484_313"><rect class="s cg" x="484" y="313"/></g><g id="n495_321"><rect class="s cg" x="495" y="321"/></g><g id="n501_328"><rect class="s cg" x="501" y="328"/></g><g id="n509_332"><rect class="s cg" x="509" y="332"/></g><g id="n516_337"><rect class="s cg" x="516" y="337"/></g><g id="n509_347"><rect class="s cg" x="509" y="347"/></g><g id="n497_357"><rect class="s cg" x="497" y="357"/></g><g id="n498_365"><rect class="s cg" x="498" y="365"/></g><g id="n522_358"><rect class="s cg" x="522" y="358"/></g><g id="n487_384"><rect class="s cg" x="487" y="384"/></g><g id="n475_387"><rect class="s cg" x="475" y="387"/></g><g id="n462_392"><rect class="s cg" x="462" y="392"/></g><g id="n450_392"><rect class="s cg" x="450" y="392"/></g><g id="n438_385"><rect class="s cg" x="438" y="385"/></g><g id="n424_384"><rect class="s cg" x="424" y="384"/></g><g id="n513_296"><rect class="s cg" x="513" y="296"/></g><g id="n416_331"><rect class="s cg" x="416" y="331"/></g><g id="n415_342"><rect class="s cg" x="415" y="342"/></g><g id="n421_319"><rect class="s cg" x="421" y="319"/></g><g id="n433_312"><rect class="s cg" x="433" y="312"/></g><g id="n425_292"><rect class="s cg" x="425" y="292"/></g><g id="n412_298"><rect class="s cg" x="412" y="298"/></g><g id="n449_289"><rect class="s cg" x="449" y="289"/></g><g id="n528_351"><rect class="s cg" x="528" y="351"/></g><g id="n576_362"><rect class="s cg" x="576" y="362"/></g><g id="n573_340"><rect class="s cg" x="573" y="340"/></g><g id="n527_400"><rect class="s cg" x="527" y="400"/></g><g id="n516_407"><rect class="s cg" x="516" y="407"/></g><g id="n541_391"><rect class="s cg" x="541" y="391"/></g><g id="n579_398"><rect class="s cg" x="579" y="398"/></g><g id="n355_330"><rect class="s cg" x="355" y="330"/></g><g id="n352_338"><rect class="s cg" x="352" y="338"/></g><g id="n370_329"><rect class="s cg" x="370" y="329"/></g><g id="n366_338"><rect class="s cg" x="366" y="338"/></g><g id="n347_348"><rect class="s cg" x="347" y="348"/></g><g id="n342_270"><rect class="s cg" x="342" y="270"/></g><g id="n327_292"><rect class="s cg" x="327" y="292"/></g><g id="n362_297"><rect class="s cg" x="362" y="297"/></g><g id="n398_276"><rect class="s cg" x="398" y="276"/></g><g id="n415_268"><rect class="s cg" x="415" y="268"/></g><g id="n265_336"><rect class="s cg" x="265" y="336"/></g><g id="n277_332"><rect class="s cg" x="277" y="332"/></g><g id="n293_327"><rect class="s cg" x="293" y="327"/></g><g id="n314_331"><rect class="s cg" x="314" y="331"/></g><g id="n261_351"><rect class="s cg" x="261" y="351"/></g><g id="n259_359"><rect class="s cg" x="259" y="359"/></g><g id="n259_372"><rect class="s cg" x="259" y="372"/></g><g id="n291_385"><rect class="s cg" x="291" y="385"/></g><g id="n352_393"><rect class="s cg" x="352" y="393"/></g><g id="n382_384"><rect class="s cg" x="382" y="384"/></g><g id="n369_399"><rect class="s cg" x="369" y="399"/></g>
<g id="n240_435"><rect class="s cg" x="240" y="435"/></g><g id="n249_448"><rect class="s cg" x="249" y="448"/></g><g id="n264_422"><rect class="s cg" x="264" y="422"/></g><g id="n252_413"><rect class="s cg" x="252" y="413"/></g><g id="n239_406"><rect class="s cg" x="239" y="406"/></g><g id="n281_437"><rect class="s cg" x="281" y="437"/></g><g id="n290_444"><rect class="s cg" x="290" y="444"/></g><g id="n299_450"><rect class="s cg" x="299" y="450"/></g><g id="n307_455"><rect class="s cg" x="307" y="455"/></g><g id="n317_461"><rect class="s cg" x="317" y="461"/></g><g id="n326_463"><rect class="s cg" x="326" y="463"/></g><g id="n339_466"><rect class="s cg" x="339" y="466"/></g><g id="n347_459"><rect class="s cg" x="347" y="459"/></g><g id="n357_456"><rect class="s cg" x="357" y="456"/></g><g id="n365_447"><rect class="s cg" x="365" y="447"/></g><g id="n366_431"><rect class="s cg" x="366" y="431"/></g><g id="n249_390"><rect class="s cg" x="249" y="390"/></g><g id="n273_400"><rect class="s cg" x="273" y="400"/></g><g id="n250_378"><rect class="s cg" x="250" y="378"/></g><g id="n315_403"><rect class="s cg" x="315" y="403"/></g><g id="n410_429"><rect class="s cg" x="410" y="429"/></g><g id="n383_482"><rect class="s cg" x="383" y="482"/></g><g id="n350_483"><rect class="s cg" x="350" y="483"/></g><g id="n317_484"><rect class="s cg" x="317" y="484"/></g><g id="n400_496"><rect class="s cg" x="400" y="496"/></g><g id="n363_501"><rect class="s cg" x="363" y="501"/></g><g id="n467_480"><rect class="s cg" x="467" y="480"/></g><g id="n440_456"><rect class="s cg" x="440" y="456"/></g><g id="n379_465"><rect class="s cg" x="379" y="465"/></g><g id="n515_480"><rect class="s cg" x="515" y="480"/></g><g id="n543_492"><rect class="s cg" x="543" y="492"/></g><g id="n497_502"><rect class="s cg" x="497" y="502"/></g><g id="n555_448"><rect class="s cg" x="555" y="448"/></g><g id="n559_470"><rect class="s cg" x="559" y="470"/></g><g id="n494_471"><rect class="s cg" x="494" y="471"/></g><g id="n589_452"><rect class="s cg" x="589" y="452"/></g><g id="n625_462"><rect class="s cg" x="625" y="462"/></g><g id="n460_403"><rect class="s cr" x="460" y="403"/></g><g id="n552_384"><rect class="s cd" x="552" y="384"/></g><g id="n569_375"><rect class="s cb" x="569" y="375"/></g><g id="n494_399"><rect class="s cb" x="494" y="399"/></g><g id="n496_414"><rect class="s cb" x="496" y="414"/></g><g id="n499_438"><rect class="s cb" x="499" y="438"/></g><g id="n488_446"><rect class="s cb" x="488" y="446"/></g><g id="n545_422"><rect class="s cb" x="545" y="422"/></g><g id="n577_417"><rect class="s cy" x="577" y="417"/></g>
<g id="n605_389"><rect class="s cg" x="605" y="389"/></g><g id="n634_366"><rect class="s cg" x="634" y="366"/></g><g id="n638_399"><rect class="s cg" x="638" y="399"/></g><g id="n660_374"><rect class="s cg" x="660" y="374"/></g><g id="n695_375"><rect class="s cg" x="695" y="375"/></g><g id="n667_399"><rect class="s cg" x="667" y="399"/></g><g id="n695_411"><rect class="s cg" x="695" y="411"/></g><g id="n723_394"><rect class="s cg" x="723" y="394"/></g><g id="n767_386"><rect class="s cg" x="767" y="386"/></g><g id="n755_422"><rect class="s cg" x="755" y="422"/></g><g id="n781_419"><rect class="s cg" x="781" y="419"/></g><g id="n770_440"><rect class="s cg" x="770" y="440"/></g><g id="n722_442"><rect class="s cg" x="722" y="442"/></g><g id="n735_463"><rect class="s cg" x="735" y="463"/></g><g id="n636_426"><rect class="s cg" x="636" y="426"/></g><g id="n654_462"><rect class="s cg" x="654" y="462"/></g><g id="n659_425"><rect class="s cg" x="659" y="425"/></g><g id="n678_454"><rect class="s cg" x="678" y="454"/></g>
<g id="n855_199"><rect class="s cb" x="855" y="199"/></g><g id="n870_192"><rect class="s cb" x="870" y="192"/></g><g id="n843_211"><rect class="s cb" x="843" y="211"/></g><g id="n868_224"><rect class="s cb" x="868" y="224"/></g><g id="n839_252"><rect class="s cb" x="839" y="252"/></g><g id="n872_250"><rect class="s cb" x="872" y="250"/></g><g id="n863_270"><rect class="s cb" x="863" y="270"/></g><g id="n809_259"><rect class="s cb" x="809" y="259"/></g><g id="n825_286"><rect class="s cb" x="825" y="286"/></g><g id="n767_283"><rect class="s cb" x="767" y="283"/></g><g id="n758_318"><rect class="s cb" x="758" y="318"/></g><g id="n798_289"><rect class="s cb" x="798" y="289"/></g><g id="n808_319"><rect class="s cb" x="808" y="319"/></g><g id="n851_302"><rect class="s cb" x="851" y="302"/></g><g id="n858_332"><rect class="s cb" x="858" y="332"/></g><g id="n884_293"><rect class="s cb" x="884" y="293"/></g><g id="n890_322"><rect class="s cb" x="890" y="322"/></g><g id="n911_314"><rect class="s cb" x="911" y="314"/></g><g id="n934_307"><rect class="s cr" x="934" y="307"/></g><g id="n954_308"><rect class="s cb" x="954" y="308"/></g><g id="n942_334"><rect class="s cb" x="942" y="334"/></g>
<g id="n506_166"><rect class="s cr" x="506" y="166"/></g><g id="n515_186"><rect class="s cr" x="515" y="186"/></g><g id="n509_176"><rect class="s cb" x="509" y="176"/></g><g id="n520_197"><rect class="s cd" x="520" y="197"/></g><g id="n531_212"><rect class="s cr" x="531" y="212"/></g><g id="n553_159"><rect class="s cr" x="553" y="159"/></g><g id="n559_151"><rect class="s cr" x="559" y="151"/></g><g id="n548_169"><rect class="s cr" x="548" y="169"/></g><g id="n565_165"><rect class="s cr" x="565" y="165"/></g><g id="n561_173"><rect class="s cr" x="561" y="173"/></g><g id="n558_180"><rect class="s cb" x="558" y="180"/></g><g id="n563_185"><rect class="s cr" x="563" y="185"/></g><g id="n564_192"><rect class="s cr" x="564" y="192"/></g><g id="n575_205"><rect class="s cr" x="575" y="205"/></g><g id="n583_208"><rect class="s cr" x="583" y="208"/></g><g id="n588_215"><rect class="s cr" x="588" y="215"/></g><g id="n600_215"><rect class="s cr" x="600" y="215"/></g><g id="n607_221"><rect class="s cr" x="607" y="221"/></g><g id="n617_223"><rect class="s cb" x="617" y="223"/></g><g id="n635_227"><rect class="s cr" x="635" y="227"/></g><g id="n585_134"><rect class="s cr" x="585" y="134"/></g><g id="n594_135"><rect class="s cb" x="594" y="135"/></g><g id="n589_122"><rect class="s cr" x="589" y="122"/></g><g id="n590_115"><rect class="s cr" x="590" y="115"/></g><g id="n602_106"><rect class="s cr" x="602" y="106"/></g><g id="n613_106"><rect class="s cr" x="613" y="106"/></g><g id="n611_122"><rect class="s cr" x="611" y="122"/></g><g id="n617_137"><rect class="s cr" x="617" y="137"/></g><g id="n527_134"><rect class="s cr" x="527" y="134"/></g><g id="n643_226"><rect class="s cr" x="643" y="226"/></g><g id="n554_137"><rect class="s cr" x="554" y="137"/></g><g id="n569_137"><rect class="s cr" x="569" y="137"/></g><g id="n574_74"><rect class="s cr" x="574" y="74"/></g><g id="n556_78"><rect class="s cr" x="556" y="78"/></g><g id="n539_84"><rect class="s cr" x="539" y="84"/></g><g id="n528_95"><rect class="s cr" x="528" y="95"/></g><g id="n531_118"><rect class="s cr" x="531" y="118"/></g><g id="n608_87"><rect class="s cr" x="608" y="87"/></g><g id="n543_227"><rect class="s cb" x="543" y="227"/></g><g id="n594_245"><rect class="s cr" x="594" y="245"/></g><g id="n633_79"><rect class="s cr" x="633" y="79"/></g><g id="n643_85"><rect class="s cr" x="643" y="85"/></g><g id="n496_111"><rect class="s cg" x="496" y="111"/></g>
<g id="n680_95"><rect class="s cr" x="680" y="95"/></g><g id="n682_107"><rect class="s cr" x="682" y="107"/></g><g id="n692_103"><rect class="s cr" x="692" y="103"/></g><g id="n690_90"><rect class="s cr" x="690" y="90"/></g><g id="n648_145"><rect class="s cr" x="648" y="145"/></g><g id="n637_143"><rect class="s cr" x="637" y="143"/></g><g id="n655_150"><rect class="s cr" x="655" y="150"/></g><g id="n647_168"><rect class="s cr" x="647" y="168"/></g><g id="n652_177"><rect class="s cr" x="652" y="177"/></g><g id="n637_177"><rect class="s cr" x="637" y="177"/></g><g id="n667_171"><rect class="s cr" x="667" y="171"/></g><g id="n671_143"><rect class="s cr" x="671" y="143"/></g><g id="n664_148"><rect class="s cr" x="664" y="148"/></g><g id="n742_137"><rect class="s cr" x="742" y="137"/></g><g id="n740_128"><rect class="s cr" x="740" y="128"/></g><g id="n745_127"><rect class="s cr" x="745" y="127"/></g><g id="n756_129"><rect class="s cr" x="756" y="129"/></g><g id="n767_128"><rect class="s cr" x="767" y="128"/></g><g id="n776_129"><rect class="s cr" x="776" y="129"/></g><g id="n711_173"><rect class="s cr" x="711" y="173"/></g><g id="n747_168"><rect class="s cb" x="747" y="168"/></g><g id="n703_186"><rect class="s cb" x="703" y="186"/></g><g id="n705_194"><rect class="s cd" x="705" y="194"/></g><g id="n726_184"><rect class="s cb" x="726" y="184"/></g><g id="n703_213"><rect class="s cb" x="703" y="213"/></g><g id="n711_238"><rect class="s cb" x="711" y="238"/></g><g id="n787_107"><rect class="s cr" x="787" y="107"/></g><g id="n647_184"><rect class="s cb" x="647" y="184"/></g><g id="n676_195"><rect class="s cb" x="676" y="195"/></g><g id="n632_131"><rect class="s cr" x="632" y="131"/></g>
<g id="n704_93"><rect class="s cr" x="704" y="93"/></g><g id="n699_99"><rect class="s cr" x="699" y="99"/></g><g id="n710_101"><rect class="s cr" x="710" y="101"/></g><g id="n706_82"><rect class="s cr" x="706" y="82"/></g><g id="n720_82"><rect class="s cr" x="720" y="82"/></g><g id="n733_87"><rect class="s cr" x="733" y="87"/></g><g id="n739_96"><rect class="s cr" x="739" y="96"/></g><g id="n744_103"><rect class="s cr" x="744" y="103"/></g><g id="n746_111"><rect class="s cr" x="746" y="111"/></g>
<g id="n650_235"><rect class="s cb" x="650" y="235"/></g><g id="n664_237"><rect class="s cr" x="664" y="237"/></g><g id="n675_240"><rect class="s cr" x="675" y="240"/></g><g id="n690_237"><rect class="s cb" x="690" y="237"/></g><g id="n708_244"><rect class="s cb" x="708" y="244"/></g><g id="n717_240"><rect class="s cb" x="717" y="240"/></g><g id="n731_257"><rect class="s cb" x="731" y="257"/></g><g id="n730_224"><rect class="s cb" x="730" y="224"/></g><g id="n719_233"><rect class="s cb" x="719" y="233"/></g><g id="n652_269"><rect class="s cr" x="652" y="269"/></g><g id="n692_279"><rect class="t cb" x="692" y="279"/></g><g id="n686_308"><rect class="s cb" x="686" y="308"/></g><g id="n709_307"><rect class="s cb" x="709" y="307"/></g>
<g id="n745_230"><rect class="s cb" x="745" y="230"/></g><g id="n755_256"><rect class="s cb" x="755" y="256"/></g><g id="n772_259"><rect class="s cb" x="772" y="259"/></g><g id="n786_255"><rect class="s cr" x="786" y="255"/></g><g id="n795_249"><rect class="s cb" x="795" y="249"/></g><g id="n787_216"><rect class="s cb" x="787" y="216"/></g><g id="n800_216"><rect class="s cb" x="800" y="216"/></g><g id="n813_207"><rect class="s cr" x="813" y="207"/></g><g id="n816_187"><rect class="s cg" x="816" y="187"/></g><g id="n762_188"><rect class="s cy" x="762" y="188"/></g><g id="n764_170"><rect class="s cc" x="764" y="170"/></g><g id="n795_170"><rect class="s cb" x="795" y="170"/></g><g id="n795_158"><rect class="s cr" x="795" y="158"/></g><g id="n834_169"><rect class="s cb" x="834" y="169"/></g><g id="n811_151"><rect class="s cc" x="811" y="151"/></g><g id="n819_138"><rect class="s cb" x="819" y="138"/></g><g id="n809_126"><rect class="s cb" x="809" y="126"/></g><g id="n791_129"><rect class="s cb" x="791" y="129"/></g><g id="n808_108"><rect class="s cb" x="808" y="108"/></g><g id="n777_106"><rect class="s cr" x="777" y="106"/></g><g id="n779_119"><rect class="s cr" x="779" y="119"/></g><g id="n782_88"><rect class="s cb" x="782" y="88"/></g><g id="n769_83"><rect class="s cb" x="769" y="83"/></g><g id="n757_79"><rect class="s cb" x="757" y="79"/></g>
<g id="n652_38"><rect class="s cr" x="652" y="38"/></g><g id="n672_59"><rect class="s cb" x="672" y="59"/></g><g id="n699_37"><rect class="s cg" x="699" y="37"/></g><g id="n707_71"><rect class="s cb" x="707" y="71"/></g><g id="n723_44"><rect class="s cr" x="723" y="44"/></g><g id="n750_50"><rect class="s cb" x="750" y="50"/></g><g id="n730_77"><rect class="s cr" x="730" y="77"/></g><g id="n647_59"><rect class="s cr" x="647" y="59"/></g><g id="n647_73"><rect class="s cr" x="647" y="73"/></g><g id="n675_78"><rect class="s cb" x="675" y="78"/></g><g id="n597_61"><rect class="s cr" x="597" y="61"/></g><g id="n619_77"><rect class="s cr" x="619" y="77"/></g>
<g id="n715_111"><rect class="v cb" x="715" y="111"/></g><g id="n571_100"><rect class="u cb" x="571" y="100"/></g><g id="n677_210"><rect class="v cb" x="677" y="210"/></g><g id="n663_85"><rect class="t cr" x="663" y="85"/></g><g id="n759_154"><rect class="u cr" x="759" y="154"/></g><g id="n747_200"><rect class="u cc" x="747" y="200"/></g><g id="n783_187"><rect class="t cy" x="783" y="187"/></g><g id="n763_227"><rect class="t cb" x="763" y="227"/></g><g id="n675_253"><rect class="t cr" x="675" y="253"/></g><g id="n633_207"><rect class="t cb" x="633" y="207"/></g><g id="n624_214"><rect class="t cr" x="624" y="214"/></g><g id="n562_203"><rect class="t cr" x="562" y="203"/></g><g id="n634_117"><rect class="t cr" x="634" y="117"/></g><g id="n642_196"><rect class="t cr" x="642" y="196"/></g><g id="n662_185"><rect class="t cr" x="662" y="185"/></g><g id="n657_167"><rect class="t cr" x="657" y="167"/></g><g id="n640_166"><rect class="t cr" x="640" y="166"/></g><g id="n655_159"><rect class="t cr" x="655" y="159"/></g><g id="n645_151"><rect class="t cr" x="645" y="151"/></g><g id="n637_152"><rect class="t cr" x="637" y="152"/></g><g id="n722_145"><rect class="t cr" x="722" y="145"/></g><g id="n733_157"><rect class="t cr" x="733" y="157"/></g><g id="n754_138"><rect class="t cr" x="754" y="138"/></g><g id="n772_146"><rect class="t cb" x="772" y="146"/></g><g id="n723_162"><rect class="t cr" x="723" y="162"/></g><g id="n692_179"><rect class="t cr" x="692" y="179"/></g><g id="n718_207"><rect class="t cb" x="718" y="207"/></g><g id="n755_116"><rect class="t cb" x="755" y="116"/></g>
<g id="hubR1"><rect class="cr" x="591" y="162" width="31" height="31" rx="5"/></g><g id="hubB1"><rect class="cb" x="673" y="121" width="37" height="37" rx="6"/></g>
<g id="n119_615"><rect class="s cg" x="119" y="615"/></g><g id="n90_642"><rect class="s cg" x="90" y="642"/></g><g id="n151_616"><rect class="s cg" x="151" y="616"/></g><g id="n123_644"><rect class="s cg" x="123" y="644"/></g><g id="n170_630"><rect class="s cg" x="170" y="630"/></g><g id="n203_617"><rect class="s cg" x="203" y="617"/></g><g id="n186_646"><rect class="s cg" x="186" y="646"/></g><g id="n334_593"><rect class="s cg" x="334" y="593"/></g><g id="n308_618"><rect class="s cg" x="308" y="618"/></g><g id="n354_603"><rect class="s cg" x="354" y="603"/></g><g id="n333_630"><rect class="s cg" x="333" y="630"/></g><g id="n367_626"><rect class="s cg" x="367" y="626"/></g><g id="n281_618"><rect class="s cg" x="281" y="618"/></g><g id="n268_654"><rect class="s cg" x="268" y="654"/></g><g id="n298_653"><rect class="s cg" x="298" y="653"/></g><g id="n282_693"><rect class="s cg" x="282" y="693"/></g><g id="n250_627"><rect class="s cg" x="250" y="627"/></g><g id="n244_658"><rect class="s cg" x="244" y="658"/></g><g id="n256_689"><rect class="s cg" x="256" y="689"/></g><g id="n223_687"><rect class="s cg" x="223" y="687"/></g><g id="n201_663"><rect class="s cg" x="201" y="663"/></g><g id="n256_712"><rect class="s cg" x="256" y="712"/></g><g id="n230_728"><rect class="s cg" x="230" y="728"/></g><g id="n199_705"><rect class="s cg" x="199" y="705"/></g><g id="n186_728"><rect class="s cg" x="186" y="728"/></g><g id="n188_670"><rect class="s cg" x="188" y="670"/></g><g id="n334_651"><rect class="s cg" x="334" y="651"/></g><g id="n313_678"><rect class="s cg" x="313" y="678"/></g><g id="n317_718"><rect class="s cy" x="317" y="718"/></g><g id="n111_670"><rect class="s cg" x="111" y="670"/></g><g id="n83_695"><rect class="s cg" x="83" y="695"/></g><g id="n122_703"><rect class="s cg" x="122" y="703"/></g><g id="n81_727"><rect class="s cg" x="81" y="727"/></g><g id="n109_721"><rect class="s cg" x="109" y="721"/></g><g id="n161_665"><rect class="s cg" x="161" y="665"/></g><g id="n170_696"><rect class="s cg" x="170" y="696"/></g><g id="n140_685"><rect class="s cg" x="140" y="685"/></g><g id="n156_710"><rect class="s cg" x="156" y="710"/></g><g id="n144_736"><rect class="s cg" x="144" y="736"/></g><g id="n48_743"><rect class="s cg" x="48" y="743"/></g><g id="n56_777"><rect class="s cg" x="56" y="777"/></g><g id="n74_751"><rect class="s cg" x="74" y="751"/></g><g id="n117_746"><rect class="s cg" x="117" y="746"/></g><g id="n76_792"><rect class="s cg" x="76" y="792"/></g><g id="n158_743"><rect class="s cg" x="158" y="743"/></g><g id="n140_767"><rect class="s cg" x="140" y="767"/></g><g id="n101_780"><rect class="s cg" x="101" y="780"/></g><g id="n143_787"><rect class="s cg" x="143" y="787"/></g><g id="n125_815"><rect class="s cg" x="125" y="815"/></g><g id="n197_758"><rect class="s cg" x="197" y="758"/></g><g id="n193_792"><rect class="s cg" x="193" y="792"/></g><g id="n167_774"><rect class="s cg" x="167" y="774"/></g><g id="n161_811"><rect class="s cg" x="161" y="811"/></g><g id="n264_740"><rect class="s cg" x="264" y="740"/></g><g id="n243_762"><rect class="s cg" x="243" y="762"/></g><g id="n238_802"><rect class="s cg" x="238" y="802"/></g><g id="n208_824"><rect class="s cg" x="208" y="824"/></g><g id="n24_788"><rect class="s cg" x="24" y="788"/></g><g id="n58_800"><rect class="s cg" x="58" y="800"/></g><g id="n21_825"><rect class="s cg" x="21" y="825"/></g><g id="n97_811"><rect class="s cg" x="97" y="811"/></g><g id="n105_846"><rect class="s cg" x="105" y="846"/></g><g id="n78_829"><rect class="s cg" x="78" y="829"/></g><g id="n58_856"><rect class="s cg" x="58" y="856"/></g><g id="n14_853"><rect class="s cg" x="14" y="853"/></g><g id="n132_867"><rect class="s cg" x="132" y="867"/></g><g id="n148_900"><rect class="s cg" x="148" y="900"/></g><g id="n111_893"><rect class="s cg" x="111" y="893"/></g><g id="n82_880"><rect class="s cg" x="82" y="880"/></g><g id="n43_884"><rect class="s cg" x="43" y="884"/></g>
<g id="n369_665"><rect class="s cb" x="369" y="665"/></g><g id="n389_660"><rect class="s cb" x="389" y="660"/></g><g id="n412_660"><rect class="s cb" x="412" y="660"/></g><g id="n391_695"><rect class="s cb" x="391" y="695"/></g><g id="n448_647"><rect class="s cr" x="448" y="647"/></g><g id="n432_680"><rect class="s cr" x="432" y="680"/></g><g id="n393_714"><rect class="s cb" x="393" y="714"/></g><g id="n422_694"><rect class="s cr" x="422" y="694"/></g><g id="n457_691"><rect class="s cb" x="457" y="691"/></g><g id="n437_708"><rect class="s cb" x="437" y="708"/></g><g id="n472_722"><rect class="s cb" x="472" y="722"/></g><g id="n472_637"><rect class="s cb" x="472" y="637"/></g><g id="n367_733"><rect class="s cr" x="367" y="733"/></g><g id="n391_748"><rect class="s cr" x="391" y="748"/></g><g id="n367_771"><rect class="s cb" x="367" y="771"/></g><g id="n448_738"><rect class="s cr" x="448" y="738"/></g><g id="n416_753"><rect class="s cr" x="416" y="753"/></g><g id="n434_771"><rect class="s cb" x="434" y="771"/></g><g id="n467_744"><rect class="s cr" x="467" y="744"/></g><g id="n469_776"><rect class="s cr" x="469" y="776"/></g><g id="n406_780"><rect class="s cr" x="406" y="780"/></g><g id="n419_813"><rect class="s cr" x="419" y="813"/></g><g id="n384_604"><rect class="s cg" x="384" y="604"/></g><g id="n419_586"><rect class="s cb" x="419" y="586"/></g><g id="n434_608"><rect class="s cb" x="434" y="608"/></g><g id="n400_622"><rect class="s cg" x="400" y="622"/></g><g id="n477_609"><rect class="s cr" x="477" y="609"/></g><g id="n517_592"><rect class="s cr" x="517" y="592"/></g><g id="n562_589"><rect class="s cr" x="562" y="589"/></g><g id="n535_614"><rect class="s cr" x="535" y="614"/></g><g id="n583_602"><rect class="s cr" x="583" y="602"/></g><g id="n559_628"><rect class="s cr" x="559" y="628"/></g><g id="n603_610"><rect class="s cr" x="603" y="610"/></g><g id="n585_637"><rect class="s cr" x="585" y="637"/></g><g id="n502_621"><rect class="s cb" x="502" y="621"/></g><g id="n513_633"><rect class="s cb" x="513" y="633"/></g><g id="n518_672"><rect class="s cb" x="518" y="672"/></g><g id="n490_661"><rect class="s cb" x="490" y="661"/></g><g id="n535_649"><rect class="s cr" x="535" y="649"/></g><g id="n566_672"><rect class="s cr" x="566" y="672"/></g><g id="n488_685"><rect class="s cr" x="488" y="685"/></g><g id="n513_718"><rect class="s cr" x="513" y="718"/></g><g id="n528_693"><rect class="s cb" x="528" y="693"/></g><g id="n562_693"><rect class="s cb" x="562" y="693"/></g><g id="n537_713"><rect class="s cb" x="537" y="713"/></g><g id="n490_727"><rect class="s cb" x="490" y="727"/></g><g id="n530_743"><rect class="s cb" x="530" y="743"/></g><g id="n523_766"><rect class="s cb" x="523" y="766"/></g><g id="n499_787"><rect class="s cb" x="499" y="787"/></g>
<g id="n870_990"><rect class="s cb" x="870" y="990"/></g><g id="n845_1005"><rect class="s cr" x="845" y="1005"/></g><g id="n873_1027"><rect class="s cr" x="873" y="1027"/></g><g id="n844_1037"><rect class="s cr" x="844" y="1037"/></g>
<g id="n634_655"><rect class="s cb" x="634" y="655"/></g><g id="n668_648"><rect class="s cb" x="668" y="648"/></g><g id="n693_654"><rect class="s cr" x="693" y="654"/></g><g id="n660_686"><rect class="t cr" x="660" y="686"/></g><g id="n607_671"><rect class="s cr" x="607" y="671"/></g><g id="n620_703"><rect class="s cr" x="620" y="703"/></g><g id="n673_706"><rect class="t cr" x="673" y="706"/></g><g id="n722_657"><rect class="s cr" x="722" y="657"/></g><g id="n746_655"><rect class="s cm" x="746" y="655"/></g><g id="n733_691"><rect class="s cr" x="733" y="691"/></g><g id="n739_718"><rect class="t cr" x="739" y="718"/></g><g id="n797_700"><rect class="t cr" x="797" y="700"/></g><g id="n767_669"><rect class="s cr" x="767" y="669"/></g><g id="n787_661"><rect class="s cr" x="787" y="661"/></g><g id="n805_663"><rect class="s cr" x="805" y="663"/></g><g id="n822_667"><rect class="s cr" x="822" y="667"/></g><g id="n839_674"><rect class="s cy" x="839" y="674"/></g><g id="n763_687"><rect class="s cr" x="763" y="687"/></g><g id="n767_739"><rect class="v cr" x="767" y="739"/></g><g id="n753_698"><rect class="s cb" x="753" y="698"/></g><g id="n769_702"><rect class="s cb" x="769" y="702"/></g><g id="n808_705"><rect class="s cb" x="808" y="705"/></g><g id="n814_712"><rect class="s cb" x="814" y="712"/></g><g id="n817_719"><rect class="s cb" x="817" y="719"/></g><g id="n826_723"><rect class="s cb" x="826" y="723"/></g><g id="n641_690"><rect class="s cr" x="641" y="690"/></g><g id="n656_721"><rect class="s cr" x="656" y="721"/></g><g id="n648_728"><rect class="s cr" x="648" y="728"/></g><g id="n686_715"><rect class="s cr" x="686" y="715"/></g><g id="n700_713"><rect class="s cr" x="700" y="713"/></g><g id="n714_698"><rect class="s cr" x="714" y="698"/></g><g id="n693_731"><rect class="s cr" x="693" y="731"/></g><g id="n722_740"><rect class="s cr" x="722" y="740"/></g><g id="n719_753"><rect class="s cr" x="719" y="753"/></g><g id="n738_742"><rect class="s cr" x="738" y="742"/></g><g id="n748_748"><rect class="s cb" x="748" y="748"/></g><g id="n773_755"><rect class="s cb" x="773" y="755"/></g><g id="n793_760"><rect class="s cb" x="793" y="760"/></g><g id="n812_763"><rect class="s cb" x="812" y="763"/></g>
<g id="n631_785"><rect class="t cr" x="631" y="785"/></g><g id="n642_778"><rect class="t cr" x="642" y="778"/></g><g id="n658_779"><rect class="t cr" x="658" y="779"/></g><g id="n675_762"><rect class="u cr" x="675" y="762"/></g><g id="n702_755"><rect class="t cr" x="702" y="755"/></g><g id="n723_770"><rect class="u cr" x="723" y="770"/></g><g id="n615_802"><rect class="s cr" x="615" y="802"/></g><g id="n634_797"><rect class="s cr" x="634" y="797"/></g><g id="n650_803"><rect class="s cr" x="650" y="803"/></g><g id="n659_804"><rect class="s cr" x="659" y="804"/></g><g id="n643_810"><rect class="s cr" x="643" y="810"/></g><g id="n670_793"><rect class="s cr" x="670" y="793"/></g><g id="n675_803"><rect class="s cr" x="675" y="803"/></g><g id="n688_787"><rect class="s cr" x="688" y="787"/></g><g id="n682_773"><rect class="s cr" x="682" y="773"/></g><g id="n672_782"><rect class="s cr" x="672" y="782"/></g><g id="n599_837"><rect class="s cr" x="599" y="837"/></g><g id="n619_830"><rect class="s cr" x="619" y="830"/></g><g id="n637_844"><rect class="s cr" x="637" y="844"/></g><g id="n636_822"><rect class="s cr" x="636" y="822"/></g><g id="n655_815"><rect class="s cr" x="655" y="815"/></g><g id="n660_822"><rect class="s cr" x="660" y="822"/></g><g id="n674_819"><rect class="s cr" x="674" y="819"/></g><g id="n708_775"><rect class="s cr" x="708" y="775"/></g><g id="n734_782"><rect class="s cr" x="734" y="782"/></g><g id="n762_791"><rect class="s cr" x="762" y="791"/></g><g id="n759_808"><rect class="s cr" x="759" y="808"/></g><g id="n744_800"><rect class="s cb" x="744" y="800"/></g><g id="n573_812"><rect class="s cr" x="573" y="812"/></g><g id="n579_800"><rect class="s cr" x="579" y="800"/></g><g id="n573_792"><rect class="s cr" x="573" y="792"/></g><g id="n568_778"><rect class="s cr" x="568" y="778"/></g><g id="n571_769"><rect class="s cr" x="571" y="769"/></g><g id="n577_758"><rect class="s cr" x="577" y="758"/></g><g id="n581_747"><rect class="s cr" x="581" y="747"/></g><g id="n596_744"><rect class="s cr" x="596" y="744"/></g><g id="n610_747"><rect class="s cr" x="610" y="747"/></g><g id="n584_822"><rect class="s cr" x="584" y="822"/></g><g id="n619_739"><rect class="s cr" x="619" y="739"/></g><g id="n632_740"><rect class="s cb" x="632" y="740"/></g><g id="n644_744"><rect class="s cr" x="644" y="744"/></g><g id="n647_741"><rect class="s cr" x="647" y="741"/></g><g id="n658_742"><rect class="s cr" x="658" y="742"/></g><g id="n671_732"><rect class="s cr" x="671" y="732"/></g>
<g id="n824_747"><rect class="s cr" x="824" y="747"/></g><g id="n850_711"><rect class="s cr" x="850" y="711"/></g><g id="n859_723"><rect class="s cr" x="859" y="723"/></g><g id="n872_727"><rect class="s cb" x="872" y="727"/></g><g id="n877_740"><rect class="s cb" x="877" y="740"/></g><g id="n903_745"><rect class="s cr" x="903" y="745"/></g><g id="n904_755"><rect class="s cc" x="904" y="755"/></g><g id="n922_760"><rect class="s cr" x="922" y="760"/></g><g id="n904_771"><rect class="s cd" x="904" y="771"/></g><g id="n926_777"><rect class="s cr" x="926" y="777"/></g><g id="n952_779"><rect class="s cr" x="952" y="779"/></g><g id="n939_793"><rect class="s cb" x="939" y="793"/></g><g id="n937_802"><rect class="s cb" x="937" y="802"/></g><g id="n933_815"><rect class="s cb" x="933" y="815"/></g><g id="n880_753"><rect class="s cb" x="880" y="753"/></g><g id="n834_764"><rect class="s cr" x="834" y="764"/></g><g id="n852_764"><rect class="s cr" x="852" y="764"/></g><g id="n849_777"><rect class="s cr" x="849" y="777"/></g><g id="n863_781"><rect class="s cb" x="863" y="781"/></g><g id="n872_789"><rect class="s cr" x="872" y="789"/></g><g id="n886_789"><rect class="s cb" x="886" y="789"/></g><g id="n897_804"><rect class="s cb" x="897" y="804"/></g><g id="n897_814"><rect class="s cb" x="897" y="814"/></g><g id="n879_820"><rect class="s cb" x="879" y="820"/></g><g id="n851_785"><rect class="s cr" x="851" y="785"/></g><g id="n832_787"><rect class="s cr" x="832" y="787"/></g><g id="n819_780"><rect class="s cr" x="819" y="780"/></g><g id="n811_785"><rect class="s cb" x="811" y="785"/></g><g id="n854_809"><rect class="s cb" x="854" y="809"/></g><g id="n854_815"><rect class="s cb" x="854" y="815"/></g><g id="n862_820"><rect class="s cb" x="862" y="820"/></g><g id="n842_831"><rect class="s cb" x="842" y="831"/></g><g id="n841_843"><rect class="s cb" x="841" y="843"/></g><g id="n925_831"><rect class="s cb" x="925" y="831"/></g><g id="n935_839"><rect class="s cb" x="935" y="839"/></g><g id="n925_843"><rect class="s cb" x="925" y="843"/></g><g id="n896_813"><rect class="s cb" x="896" y="813"/></g><g id="n893_827"><rect class="s cr" x="893" y="827"/></g><g id="n895_821"><rect class="s cr" x="895" y="821"/></g><g id="n855_854"><rect class="s cc" x="855" y="854"/></g>
<g id="n687_877"><rect class="s cr" x="687" y="877"/></g><g id="n697_886"><rect class="s cr" x="697" y="886"/></g><g id="n689_892"><rect class="s cr" x="689" y="892"/></g><g id="n683_867"><rect class="s cr" x="683" y="867"/></g><g id="n685_857"><rect class="s cr" x="685" y="857"/></g><g id="n704_861"><rect class="s cr" x="704" y="861"/></g><g id="n715_877"><rect class="s cr" x="715" y="877"/></g><g id="n716_866"><rect class="s cr" x="716" y="866"/></g><g id="n698_851"><rect class="s cr" x="698" y="851"/></g><g id="n680_847"><rect class="s cr" x="680" y="847"/></g><g id="n692_839"><rect class="s cr" x="692" y="839"/></g><g id="n707_837"><rect class="s cr" x="707" y="837"/></g><g id="n730_837"><rect class="s cr" x="730" y="837"/></g><g id="n756_837"><rect class="s cr" x="756" y="837"/></g><g id="n770_840"><rect class="s cr" x="770" y="840"/></g><g id="n762_851"><rect class="s cr" x="762" y="851"/></g><g id="n779_822"><rect class="s cr" x="779" y="822"/></g><g id="n792_843"><rect class="s cr" x="792" y="843"/></g><g id="n805_871"><rect class="s cr" x="805" y="871"/></g><g id="n822_870"><rect class="s cr" x="822" y="870"/></g><g id="n841_876"><rect class="s cr" x="841" y="876"/></g><g id="n736_906"><rect class="s cr" x="736" y="906"/></g><g id="n748_906"><rect class="s cr" x="748" y="906"/></g><g id="n760_910"><rect class="s cr" x="760" y="910"/></g><g id="n767_906"><rect class="s cr" x="767" y="906"/></g><g id="n730_898"><rect class="s cr" x="730" y="898"/></g><g id="n779_892"><rect class="s cr" x="779" y="892"/></g><g id="n797_886"><rect class="s cr" x="797" y="886"/></g><g id="n815_911"><rect class="s cr" x="815" y="911"/></g><g id="n835_906"><rect class="s cr" x="835" y="906"/></g><g id="n848_913"><rect class="s cr" x="848" y="913"/></g><g id="n857_913"><rect class="s cr" x="857" y="913"/></g><g id="n874_915"><rect class="s cr" x="874" y="915"/></g><g id="n903_907"><rect class="s cr" x="903" y="907"/></g><g id="n815_934"><rect class="s cr" x="815" y="934"/></g><g id="n834_933"><rect class="s cr" x="834" y="933"/></g><g id="n801_933"><rect class="s cb" x="801" y="933"/></g><g id="n831_917"><rect class="s cb" x="831" y="917"/></g><g id="n844_891"><rect class="s cr" x="844" y="891"/></g><g id="n857_889"><rect class="s cr" x="857" y="889"/></g><g id="n873_891"><rect class="s cr" x="873" y="891"/></g><g id="n882_887"><rect class="s cr" x="882" y="887"/></g><g id="n872_878"><rect class="s cr" x="872" y="878"/></g><g id="n880_868"><rect class="s cb" x="880" y="868"/></g><g id="n864_863"><rect class="s cr" x="864" y="863"/></g><g id="n888_860"><rect class="s cb" x="888" y="860"/></g><g id="n879_851"><rect class="s cb" x="879" y="851"/></g><g id="n823_890"><rect class="s cm" x="823" y="890"/></g><g id="n782_883"><rect class="s cr" x="782" y="883"/></g><g id="n772_895"><rect class="s cr" x="772" y="895"/></g><g id="n794_885"><rect class="s cr" x="794" y="885"/></g><g id="n719_892"><rect class="s cb" x="719" y="892"/></g><g id="n717_909"><rect class="s cb" x="717" y="909"/></g><g id="n812_853"><rect class="s cb" x="812" y="853"/></g><g id="n778_852"><rect class="s cb" x="778" y="852"/></g><g id="n769_854"><rect class="s cb" x="769" y="854"/></g><g id="n666_907"><rect class="s cr" x="666" y="907"/></g>
<g id="n785_785"><rect class="v cb" x="785" y="785"/></g><g id="n805_807"><rect class="u cb" x="805" y="807"/></g><g id="n824_811"><rect class="u cy" x="824" y="811"/></g><g id="n806_829"><rect class="t cc" x="806" y="829"/></g><g id="n757_821"><rect class="u cb" x="757" y="821"/></g><g id="n718_841"><rect class="u cb" x="718" y="841"/></g><g id="n843_747"><rect class="u cb" x="843" y="747"/></g><g id="n751_778"><rect class="t cb" x="751" y="778"/></g><g id="n704_903"><rect class="u cb" x="704" y="903"/></g><g id="n670_922"><rect class="v cb" x="670" y="922"/></g><g id="n725_917"><rect class="u cb" x="725" y="917"/></g><g id="n721_958"><rect class="u cb" x="721" y="958"/></g><g id="n801_905"><rect class="t cr" x="801" y="905"/></g><g id="n806_872"><rect class="t cr" x="806" y="872"/></g><g id="n793_864"><rect class="t cr" x="793" y="864"/></g>
<g id="n775_916"><rect class="s cg" x="775" y="916"/></g><g id="n776_929"><rect class="s cb" x="776" y="929"/></g><g id="n775_942"><rect class="s cb" x="775" y="942"/></g><g id="n766_944"><rect class="s cy" x="766" y="944"/></g><g id="n753_949"><rect class="s cb" x="753" y="949"/></g><g id="n733_944"><rect class="s cb" x="733" y="944"/></g><g id="n724_943"><rect class="s cb" x="724" y="943"/></g><g id="n773_971"><rect class="s cb" x="773" y="971"/></g><g id="n767_983"><rect class="s cb" x="767" y="983"/></g><g id="n753_988"><rect class="s cb" x="753" y="988"/></g><g id="n733_994"><rect class="s cb" x="733" y="994"/></g><g id="n718_992"><rect class="s cb" x="718" y="992"/></g><g id="n659_949"><rect class="s cg" x="659" y="949"/></g>
<g id="hubR2"><rect class="cr" x="704" y="792" width="32" height="32" rx="5"/></g><g id="hubB2"><rect class="cb" x="729" y="851" width="33" height="33" rx="5"/></g>
<g id="n655_861"><rect class="x cr" x="655" y="861"/></g><g id="n671_884"><rect class="x cr" x="671" y="884"/></g><g id="n610_864"><rect class="x cd" x="610" y="864"/></g><g id="n634_894"><rect class="x cg" x="634" y="894"/></g><g id="n609_917"><rect class="cg" x="596" y="904" width="27" height="27" rx="4"/></g><g id="n579_949"><rect class="cg" x="568" y="938" width="22" height="22" rx="3"/></g><g id="n543_901"><rect class="x cg" x="543" y="901"/></g>
<g id="n559_889"><rect class="s cb" x="559" y="889"/></g><g id="n565_876"><rect class="s cg" x="565" y="876"/></g><g id="n577_871"><rect class="s cg" x="577" y="871"/></g><g id="n610_950"><rect class="s cg" x="610" y="950"/></g><g id="n518_879"><rect class="s cg" x="518" y="879"/></g><g id="n619_964"><rect class="s cg" x="619" y="964"/></g><g id="n581_974"><rect class="s cg" x="581" y="974"/></g><g id="n643_962"><rect class="v cg" x="643" y="962"/></g><g id="n624_983"><rect class="t cg" x="624" y="983"/></g><g id="n590_996"><rect class="w cg" x="590" y="996"/></g><g id="n685_1027"><rect class="t cg" x="685" y="1027"/></g><g id="n636_1001"><rect class="s cg" x="636" y="1001"/></g><g id="n650_1017"><rect class="s cg" x="650" y="1017"/></g><g id="n638_1017"><rect class="s cg" x="638" y="1017"/></g><g id="n617_1007"><rect class="s cg" x="617" y="1007"/></g><g id="n610_1016"><rect class="s cg" x="610" y="1016"/></g><g id="n621_1023"><rect class="s cg" x="621" y="1023"/></g><g id="n623_1029"><rect class="s cg" x="623" y="1029"/></g><g id="n628_1037"><rect class="s cg" x="628" y="1037"/></g><g id="n658_1011"><rect class="s cg" x="658" y="1011"/></g><g id="n601_1028"><rect class="s cg" x="601" y="1028"/></g><g id="n580_1045"><rect class="u cg" x="580" y="1045"/></g><g id="n533_1001"><rect class="u cg" x="533" y="1001"/></g><g id="n650_1068"><rect class="s cg" x="650" y="1068"/></g><g id="n666_1066"><rect class="s cg" x="666" y="1066"/></g><g id="n586_1077"><rect class="s cg" x="586" y="1077"/></g><g id="n613_1072"><rect class="s cg" x="613" y="1072"/></g><g id="n585_1112"><rect class="t cg" x="585" y="1112"/></g><g id="n580_1150"><rect class="s cg" x="580" y="1150"/></g><g id="n548_1146"><rect class="s cg" x="548" y="1146"/></g><g id="n609_1138"><rect class="s cg" x="609" y="1138"/></g><g id="n683_1057"><rect class="s cg" x="683" y="1057"/></g><g id="n697_1063"><rect class="s cg" x="697" y="1063"/></g><g id="n722_1058"><rect class="s cg" x="722" y="1058"/></g><g id="n562_1079"><rect class="s cg" x="562" y="1079"/></g><g id="n558_1115"><rect class="s cg" x="558" y="1115"/></g><g id="n517_1073"><rect class="s cg" x="517" y="1073"/></g><g id="n556_1033"><rect class="t cg" x="556" y="1033"/></g><g id="n542_1079"><rect class="t cg" x="542" y="1079"/></g><g id="n510_1105"><rect class="t cg" x="510" y="1105"/></g><g id="n513_1117"><rect class="s cg" x="513" y="1117"/></g><g id="n497_1046"><rect class="u cg" x="497" y="1046"/></g><g id="n485_1077"><rect class="s cg" x="485" y="1077"/></g><g id="n497_1008"><rect class="u cg" x="497" y="1008"/></g>
<g id="n520_992"><rect class="s cg" x="520" y="992"/></g><g id="n515_982"><rect class="s cg" x="515" y="982"/></g><g id="n552_976"><rect class="s cg" x="552" y="976"/></g><g id="n547_993"><rect class="s cg" x="547" y="993"/></g><g id="n563_975"><rect class="s cg" x="563" y="975"/></g><g id="n568_917"><rect class="s cg" x="568" y="917"/></g><g id="n504_901"><rect class="s cg" x="504" y="901"/></g><g id="n513_898"><rect class="s cg" x="513" y="898"/></g><g id="n491_906"><rect class="s cg" x="491" y="906"/></g><g id="n428_993"><rect class="s cg" x="428" y="993"/></g><g id="n424_1002"><rect class="s cg" x="424" y="1002"/></g><g id="n437_1009"><rect class="s cg" x="437" y="1009"/></g><g id="n442_1015"><rect class="s cg" x="442" y="1015"/></g><g id="n456_1013"><rect class="s cg" x="456" y="1013"/></g><g id="n487_980"><rect class="s cg" x="487" y="980"/></g><g id="n502_980"><rect class="s cg" x="502" y="980"/></g><g id="n535_1023"><rect class="s cb" x="535" y="1023"/></g><g id="n525_1032"><rect class="s cg" x="525" y="1032"/></g><g id="n540_1035"><rect class="s cg" x="540" y="1035"/></g><g id="n558_1020"><rect class="s cg" x="558" y="1020"/></g><g id="n510_1020"><rect class="s cg" x="510" y="1020"/></g><g id="n503_1023"><rect class="s cg" x="503" y="1023"/></g><g id="n512_1052"><rect class="s cg" x="512" y="1052"/></g><g id="n470_1113"><rect class="s cg" x="470" y="1113"/></g>
<g id="n464_929"><rect class="t cg" x="464" y="929"/></g><g id="n475_913"><rect class="t cg" x="475" y="913"/></g><g id="n416_883"><rect class="s cg" x="416" y="883"/></g><g id="n435_883"><rect class="s cg" x="435" y="883"/></g><g id="n448_881"><rect class="s cg" x="448" y="881"/></g><g id="n457_881"><rect class="s cg" x="457" y="881"/></g><g id="n407_904"><rect class="s cg" x="407" y="904"/></g><g id="n430_911"><rect class="s cg" x="430" y="911"/></g><g id="n399_916"><rect class="s cg" x="399" y="916"/></g><g id="n395_927"><rect class="s cg" x="395" y="927"/></g><g id="n427_931"><rect class="s cg" x="427" y="931"/></g><g id="n405_936"><rect class="s cg" x="405" y="936"/></g><g id="n377_906"><rect class="s cg" x="377" y="906"/></g><g id="n366_873"><rect class="s cg" x="366" y="873"/></g><g id="n391_872"><rect class="s cg" x="391" y="872"/></g><g id="n443_963"><rect class="v cg" x="443" y="963"/></g><g id="n409_956"><rect class="s cg" x="409" y="956"/></g><g id="n389_962"><rect class="s cg" x="389" y="962"/></g><g id="n397_947"><rect class="s cg" x="397" y="947"/></g><g id="n458_982"><rect class="w cg" x="458" y="982"/></g><g id="n410_990"><rect class="s cg" x="410" y="990"/></g><g id="n393_977"><rect class="s cg" x="393" y="977"/></g><g id="n423_972"><rect class="s cg" x="423" y="972"/></g><g id="n421_985"><rect class="s cg" x="421" y="985"/></g><g id="n391_1009"><rect class="w cg" x="391" y="1009"/></g><g id="n350_1012"><rect class="w cg" x="350" y="1012"/></g><g id="n369_968"><rect class="v cg" x="369" y="968"/></g><g id="n317_969"><rect class="v cg" x="317" y="969"/></g><g id="n255_974"><rect class="u cg" x="255" y="974"/></g><g id="n389_937"><rect class="s cg" x="389" y="937"/></g><g id="n379_933"><rect class="t cg" x="379" y="933"/></g><g id="n333_914"><rect class="s cg" x="333" y="914"/></g><g id="n347_902"><rect class="s cg" x="347" y="902"/></g><g id="n310_926"><rect class="s cg" x="310" y="926"/></g><g id="n320_936"><rect class="s cg" x="320" y="936"/></g><g id="n310_952"><rect class="s cg" x="310" y="952"/></g><g id="n263_962"><rect class="s cg" x="263" y="962"/></g><g id="n276_946"><rect class="s cg" x="276" y="946"/></g>
<g id="n224_950"><rect class="u cg" x="224" y="950"/></g><g id="n178_967"><rect class="t cg" x="178" y="967"/></g><g id="n185_936"><rect class="s cg" x="185" y="936"/></g><g id="n146_952"><rect class="t cg" x="146" y="952"/></g><g id="n112_938"><rect class="s cg" x="112" y="938"/></g><g id="n71_929"><rect class="s cg" x="71" y="929"/></g><g id="n109_966"><rect class="s cg" x="109" y="966"/></g><g id="n117_978"><rect class="s cg" x="117" y="978"/></g><g id="n128_991"><rect class="s cg" x="128" y="991"/></g><g id="n147_1005"><rect class="s cg" x="147" y="1005"/></g><g id="n315_996"><rect class="s cg" x="315" y="996"/></g><g id="n270_978"><rect class="s cg" x="270" y="978"/></g><g id="n277_1004"><rect class="t cg" x="277" y="1004"/></g><g id="n297_1014"><rect class="s cg" x="297" y="1014"/></g><g id="n271_1022"><rect class="s cg" x="271" y="1022"/></g><g id="n292_1040"><rect class="t cg" x="292" y="1040"/></g><g id="n330_1057"><rect class="s cg" x="330" y="1057"/></g><g id="n347_1052"><rect class="s cg" x="347" y="1052"/></g><g id="n374_1042"><rect class="s cg" x="374" y="1042"/></g><g id="n353_984"><rect class="s cg" x="353" y="984"/></g><g id="n309_1061"><rect class="u cg" x="309" y="1061"/></g><g id="n199_1037"><rect class="t cg" x="199" y="1037"/></g><g id="n212_1005"><rect class="s cg" x="212" y="1005"/></g><g id="n232_996"><rect class="s cg" x="232" y="996"/></g><g id="n247_990"><rect class="s cg" x="247" y="990"/></g><g id="n221_1018"><rect class="s cg" x="221" y="1018"/></g><g id="n239_1022"><rect class="s cg" x="239" y="1022"/></g><g id="n156_1029"><rect class="s cg" x="156" y="1029"/></g><g id="n154_1057"><rect class="s cg" x="154" y="1057"/></g><g id="n199_1075"><rect class="s cg" x="199" y="1075"/></g><g id="n242_1077"><rect class="s cg" x="242" y="1077"/></g><g id="n241_1036"><rect class="s cg" x="241" y="1036"/></g><g id="n219_1044"><rect class="s cg" x="219" y="1044"/></g><g id="n225_1057"><rect class="s cg" x="225" y="1057"/></g><g id="n246_1060"><rect class="s cg" x="246" y="1060"/></g><g id="n281_1059"><rect class="s cg" x="281" y="1059"/></g><g id="n273_1084"><rect class="s cg" x="273" y="1084"/></g><g id="n326_1082"><rect class="s cg" x="326" y="1082"/></g><g id="n303_1103"><rect class="t cg" x="303" y="1103"/></g><g id="n260_1099"><rect class="s cg" x="260" y="1099"/></g><g id="n217_1097"><rect class="s cg" x="217" y="1097"/></g><g id="n222_1114"><rect class="s cg" x="222" y="1114"/></g><g id="n261_1121"><rect class="s cg" x="261" y="1121"/></g><g id="n342_1087"><rect class="s cg" x="342" y="1087"/></g><g id="n381_1077"><rect class="s cg" x="381" y="1077"/></g><g id="n421_1051"><rect class="s cg" x="421" y="1051"/></g><g id="n468_1049"><rect class="t cg" x="468" y="1049"/></g><g id="n426_1063"><rect class="s cg" x="426" y="1063"/></g><g id="n432_1078"><rect class="s cg" x="432" y="1078"/></g><g id="n469_1071"><rect class="s cg" x="469" y="1071"/></g><g id="n414_1095"><rect class="s cg" x="414" y="1095"/></g><g id="n447_1105"><rect class="s cg" x="447" y="1105"/></g><g id="n472_1127"><rect class="s cg" x="472" y="1127"/></g><g id="n425_1136"><rect class="s cg" x="425" y="1136"/></g><g id="n383_1127"><rect class="s cg" x="383" y="1127"/></g><g id="n428_1028"><rect class="s cg" x="428" y="1028"/></g>
<g id="hubG3"><rect class="cg" x="505" y="923" width="43" height="43" rx="7"/></g>
</g>
</svg>
